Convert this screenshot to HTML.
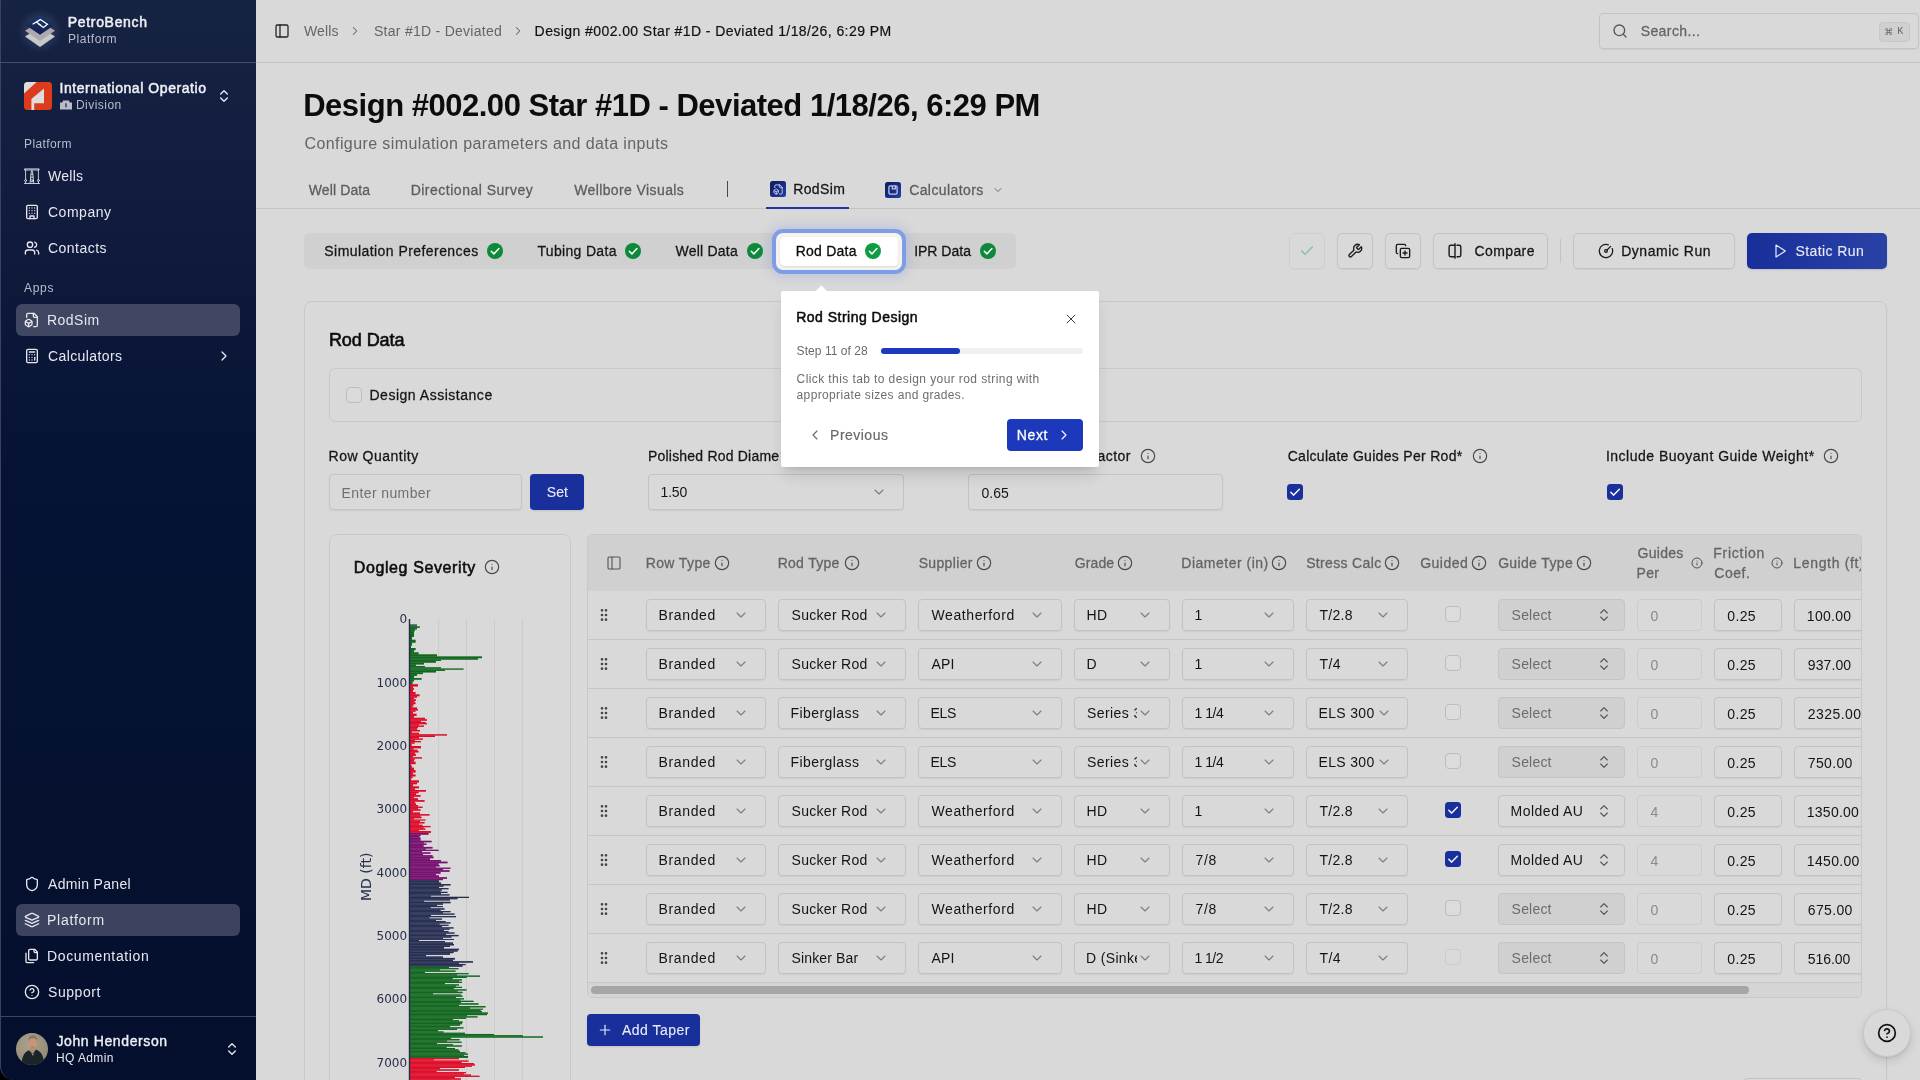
<!DOCTYPE html><html lang="en"><head><meta charset="utf-8"><title>PetroBench - RodSim Design</title><style>*{box-sizing:border-box;margin:0;padding:0}
html,body{width:1920px;height:1080px;overflow:hidden}
body{position:relative;background:#d9d9d9;font-family:"Liberation Sans",sans-serif;color:#111;-webkit-font-smoothing:antialiased}
.layer{will-change:transform;position:absolute;left:0;top:0;width:1920px;height:1080px;overflow:hidden;pointer-events:none}
.a{position:absolute;display:block}
.t{position:absolute;display:block;white-space:pre;line-height:1;color:#111}
.clip{position:absolute;overflow:hidden}
</style></head><body><div class="layer" id="L-main"><div class="a" style="left:256px;top:62px;width:1664px;height:1px;background:#c3c3c3;"></div><svg class="a" style="left:274px;top:23px;" width="16" height="16" viewBox="0 0 24 24" fill="none" stroke="#222" stroke-width="1.9" stroke-linecap="round" stroke-linejoin="round"><rect width="18" height="18" x="3" y="3" rx="2"/><path d="M9 3v18"/></svg><span class="t" style="left:304.00px;top:24.00px;font-size:14px;letter-spacing:0.133px;color:#656565;">Wells</span><svg class="a" style="left:348px;top:24px;" width="14" height="14" viewBox="0 0 24 24" fill="none" stroke="#656565" stroke-width="1.8" stroke-linecap="round" stroke-linejoin="round"><path d="m9 18 6-6-6-6"/></svg><span class="t" style="left:374.00px;top:24.00px;font-size:14px;letter-spacing:0.269px;color:#656565;">Star #1D - Deviated</span><svg class="a" style="left:510.5px;top:24px;" width="14" height="14" viewBox="0 0 24 24" fill="none" stroke="#656565" stroke-width="1.8" stroke-linecap="round" stroke-linejoin="round"><path d="m9 18 6-6-6-6"/></svg><span class="t" style="left:534.60px;top:24.00px;font-size:14px;letter-spacing:0.421px;color:#111111;-webkit-text-stroke:0.2px currentColor;">Design #002.00 Star #1D - Deviated 1/18/26, 6:29 PM</span><div class="a" style="left:1599px;top:13px;width:320px;height:36px;border:1px solid #c3c3c3;border-radius:4px;box-shadow:0 1px 1px rgba(0,0,0,.05);"></div><svg class="a" style="left:1612px;top:23px;" width="16" height="16" viewBox="0 0 24 24" fill="none" stroke="#555" stroke-width="2" stroke-linecap="round" stroke-linejoin="round"><circle cx="11" cy="11" r="8"/><path d="m21 21-4.3-4.3"/></svg><span class="t" style="left:1640.64px;top:24.00px;font-size:14px;letter-spacing:0.423px;color:#656565;-webkit-text-stroke:0.28px currentColor;">Search...</span><div class="a" style="left:1879px;top:22px;width:31px;height:20px;background:#d0d0d0;border:1px solid #c6c6c6;border-radius:4px;"></div><span class="t" style="left:1884.30px;top:28.00px;font-size:9px;font-family:'DejaVu Sans', 'Liberation Sans', sans-serif;color:#656565;">⌘</span><span class="t" style="left:1897.30px;top:27.00px;font-size:10px;font-family:'Liberation Mono', monospace;color:#656565;">K</span><span class="t" style="left:303.20px;top:90.00px;font-size:31px;font-weight:700;letter-spacing:-0.488px;color:#0c0c0c;">Design #002.00 Star #1D - Deviated 1/18/26, 6:29 PM</span><span class="t" style="left:304.50px;top:136.00px;font-size:16px;letter-spacing:0.400px;color:#656565;">Configure simulation parameters and data inputs</span><div class="a" style="left:256px;top:208px;width:1664px;height:1px;background:#c3c3c3;"></div><span class="t" style="left:308.64px;top:183.00px;font-size:14px;letter-spacing:0.135px;color:#5d5d5d;-webkit-text-stroke:0.28px currentColor;">Well Data</span><span class="t" style="left:410.64px;top:183.00px;font-size:14px;letter-spacing:0.507px;color:#5d5d5d;-webkit-text-stroke:0.28px currentColor;">Directional Survey</span><span class="t" style="left:574.14px;top:183.00px;font-size:14px;letter-spacing:0.398px;color:#5d5d5d;-webkit-text-stroke:0.28px currentColor;">Wellbore Visuals</span><div class="a" style="left:726.6px;top:180.5px;width:1.3px;height:16.5px;background:#4a4a4a;"></div><div class="a" style="left:770px;top:181px;width:16px;height:16px;background:linear-gradient(135deg,#10206a 20%,#2440a6 100%);border-radius:2.5px;"></div><svg class="a" style="left:772.5px;top:183.5px;" width="11" height="11" viewBox="0 0 24 24" fill="none" stroke="#cfd4ea" stroke-width="2" stroke-linecap="round" stroke-linejoin="round"><path d="M14.5 22H18a2 2 0 0 0 2-2V7l-5-5H6a2 2 0 0 0-2 2v4"/><path d="M14 2v4a2 2 0 0 0 2 2h4"/><path d="M3 13.1a2 2 0 0 0-1 1.76v3.24a2 2 0 0 0 .97 1.78L6 21.7a2 2 0 0 0 2.03.01L11 19.9a2 2 0 0 0 1-1.76V14.9a2 2 0 0 0-.97-1.78L8 11.3a2 2 0 0 0-2.03-.01Z"/><path d="M7 17v5"/><path d="M11.7 14.2 7 17l-4.7-2.8"/></svg><span class="t" style="left:793.14px;top:182.00px;font-size:14px;letter-spacing:0.418px;color:#141414;-webkit-text-stroke:0.28px currentColor;">RodSim</span><div class="a" style="left:766px;top:207px;width:83px;height:2px;background:#1c37a6;"></div><div class="a" style="left:885px;top:182px;width:16px;height:16px;background:linear-gradient(135deg,#10206a 20%,#2440a6 100%);border-radius:2.5px;"></div><svg class="a" style="left:888px;top:185px" width="10" height="10" viewBox="0 0 10 10" fill="none" stroke="#c3c9e3" stroke-width="1.300" stroke-linejoin="round"><rect x=".900" y=".900" width="8.200" height="8.200" rx="1.300"/><path d="M4.300 .900v3h3V.900"/></svg><span class="t" style="left:909.14px;top:183.00px;font-size:14px;letter-spacing:0.419px;color:#5d5d5d;-webkit-text-stroke:0.28px currentColor;">Calculators</span><svg class="a" style="left:992px;top:184px;" width="12" height="12" viewBox="0 0 24 24" fill="none" stroke="#6a6a6a" stroke-width="2" stroke-linecap="round" stroke-linejoin="round"><path d="m6 9 6 6 6-6"/></svg><div class="a" style="left:304px;top:233px;width:712px;height:36px;background:#d0d0d0;border-radius:6px;"></div><span class="t" style="left:324.34px;top:244.00px;font-size:14px;letter-spacing:0.437px;color:#161616;-webkit-text-stroke:0.28px currentColor;">Simulation Preferences</span><svg class="a" style="left:487px;top:243px" width="16" height="16" viewBox="0 0 16 16"><circle cx="8" cy="8" r="8" fill="#0c8a3a"/><path d="M4.300 8.300 6.900 10.900 11.900 5.600" fill="none" stroke="#fff" stroke-width="1.500" stroke-linecap="round" stroke-linejoin="round"/></svg><span class="t" style="left:537.44px;top:244.00px;font-size:14px;letter-spacing:0.326px;color:#161616;-webkit-text-stroke:0.28px currentColor;">Tubing Data</span><svg class="a" style="left:625px;top:243px" width="16" height="16" viewBox="0 0 16 16"><circle cx="8" cy="8" r="8" fill="#0c8a3a"/><path d="M4.300 8.300 6.900 10.900 11.900 5.600" fill="none" stroke="#fff" stroke-width="1.500" stroke-linecap="round" stroke-linejoin="round"/></svg><span class="t" style="left:675.44px;top:244.00px;font-size:14px;letter-spacing:0.235px;color:#161616;-webkit-text-stroke:0.28px currentColor;">Well Data</span><svg class="a" style="left:746.8px;top:243px" width="16" height="16" viewBox="0 0 16 16"><circle cx="8" cy="8" r="8" fill="#0c8a3a"/><path d="M4.300 8.300 6.900 10.900 11.900 5.600" fill="none" stroke="#fff" stroke-width="1.500" stroke-linecap="round" stroke-linejoin="round"/></svg><span class="t" style="left:914.14px;top:244.00px;font-size:14px;color:#161616;-webkit-text-stroke:0.28px currentColor;">IPR Data</span><svg class="a" style="left:980px;top:243px" width="16" height="16" viewBox="0 0 16 16"><circle cx="8" cy="8" r="8" fill="#0c8a3a"/><path d="M4.300 8.300 6.900 10.900 11.900 5.600" fill="none" stroke="#fff" stroke-width="1.500" stroke-linecap="round" stroke-linejoin="round"/></svg><div class="a" style="left:1289px;top:233px;width:36px;height:36px;border:1px solid #cecece;border-radius:5px;box-shadow:0 1px 1px rgba(0,0,0,.03);"></div><svg class="a" style="left:1299px;top:243px;" width="16" height="16" viewBox="0 0 24 24" fill="none" stroke="#7cc0a4" stroke-width="1.9" stroke-linecap="round" stroke-linejoin="round"><path d="M20 6 9 17l-5-5"/></svg><div class="a" style="left:1337px;top:233px;width:36px;height:36px;border:1px solid #c3c3c3;border-radius:5px;box-shadow:0 1px 1.5px rgba(0,0,0,.06);"></div><svg class="a" style="left:1347px;top:243px;" width="16" height="16" viewBox="0 0 24 24" fill="none" stroke="#1a1a1a" stroke-width="2" stroke-linecap="round" stroke-linejoin="round"><path d="M14.7 6.3a1 1 0 0 0 0 1.4l1.6 1.6a1 1 0 0 0 1.4 0l3.77-3.77a6 6 0 0 1-7.94 7.94l-6.91 6.91a2.12 2.12 0 0 1-3-3l6.91-6.91a6 6 0 0 1 7.94-7.94l-3.76 3.76z"/></svg><div class="a" style="left:1385px;top:233px;width:36px;height:36px;border:1px solid #c3c3c3;border-radius:5px;box-shadow:0 1px 1.5px rgba(0,0,0,.06);"></div><svg class="a" style="left:1395px;top:243px;" width="16" height="16" viewBox="0 0 24 24" fill="none" stroke="#1a1a1a" stroke-width="2" stroke-linecap="round" stroke-linejoin="round"><line x1="15" x2="15" y1="12" y2="18"/><line x1="12" x2="18" y1="15" y2="15"/><rect width="14" height="14" x="8" y="8" rx="2" ry="2"/><path d="M4 16c-1.1 0-2-.9-2-2V4c0-1.1.9-2 2-2h10c1.1 0 2 .9 2 2"/></svg><div class="a" style="left:1433px;top:233px;width:115px;height:36px;border:1px solid #c3c3c3;border-radius:5px;box-shadow:0 1px 1.5px rgba(0,0,0,.06);"></div><svg class="a" style="left:1446.5px;top:243px" width="16" height="16" viewBox="0 0 16 16" fill="none" stroke="#1a1a1a" stroke-width="1.400" stroke-linecap="round" stroke-linejoin="round"><path d="M7.700 2.300H3.700a1.600 1.600 0 0 0-1.600 1.600v8.200a1.600 1.600 0 0 0 1.600 1.600h4"/><path d="M10 2.300h2.200a1.600 1.600 0 0 1 1.600 1.600v8.200a1.600 1.600 0 0 1-1.600 1.600H10"/><path d="M8 .700v14.600"/></svg><span class="t" style="left:1474.44px;top:244.00px;font-size:14px;letter-spacing:0.405px;color:#161616;-webkit-text-stroke:0.28px currentColor;">Compare</span><div class="a" style="left:1560px;top:239px;width:1px;height:24px;background:#c3c3c3;"></div><div class="a" style="left:1573px;top:233px;width:162px;height:36px;border:1px solid #c3c3c3;border-radius:5px;box-shadow:0 1px 1.5px rgba(0,0,0,.06);"></div><svg class="a" style="left:1598px;top:243px;" width="16" height="16" viewBox="0 0 24 24" fill="none" stroke="#1a1a1a" stroke-width="1.9" stroke-linecap="round" stroke-linejoin="round"><path d="M15.6 2.7a10 10 0 1 0 5.7 5.7"/><circle cx="12" cy="12" r="2"/><path d="M13.4 10.6 19 5"/></svg><span class="t" style="left:1621.14px;top:244.00px;font-size:14px;letter-spacing:0.548px;color:#161616;-webkit-text-stroke:0.28px currentColor;">Dynamic Run</span><div class="a" style="left:1747px;top:233px;width:140px;height:36px;background:linear-gradient(90deg,#182f9b,#2a42a6);border-radius:5px;box-shadow:0 1px 2px rgba(0,0,0,.12);"></div><svg class="a" style="left:1772px;top:243px;" width="16" height="16" viewBox="0 0 24 24" fill="none" stroke="#e8ebf6" stroke-width="1.8" stroke-linecap="round" stroke-linejoin="round"><polygon points="6 3 20 12 6 21 6 3"/></svg><span class="t" style="left:1795.46px;top:244.00px;font-size:14px;letter-spacing:0.409px;color:#e8ebf6;-webkit-text-stroke:0.12px currentColor;">Static Run</span><div class="a" style="left:304px;top:301px;width:1583px;height:800px;border:1px solid #c8c8c8;border-radius:8px;box-shadow:0 1px 2px rgba(0,0,0,.04);"></div><span class="t" style="left:328.91px;top:331.00px;font-size:18px;letter-spacing:-0.065px;color:#0d0d0d;-webkit-text-stroke:0.62px currentColor;">Rod Data</span><div class="a" style="left:329px;top:368px;width:1533px;height:53.5px;border:1px solid #c8c8c8;border-radius:6px;"></div><div class="a" style="left:346px;top:387px;width:16px;height:16px;background:#dbdbdb;border:1px solid #bdbdbd;border-radius:4px;"></div><span class="t" style="left:369.44px;top:388.00px;font-size:14px;letter-spacing:0.521px;color:#161616;-webkit-text-stroke:0.28px currentColor;">Design Assistance</span><span class="t" style="left:328.54px;top:449.00px;font-size:14px;letter-spacing:0.517px;color:#161616;-webkit-text-stroke:0.28px currentColor;">Row Quantity</span><div class="a" style="left:329px;top:474px;width:193px;height:36px;border:1px solid #c3c3c3;border-radius:4px;box-shadow:0 1px 1.5px rgba(0,0,0,.06);"></div><span class="t" style="left:341.50px;top:486.00px;font-size:14px;letter-spacing:0.395px;color:#707070;">Enter number</span><div class="a" style="left:530px;top:474px;width:54px;height:36px;background:#19309c;border-radius:4px;box-shadow:0 1px 2px rgba(0,0,0,.1);"></div><span class="t" style="left:546.86px;top:485.00px;font-size:14px;letter-spacing:0.028px;color:#e8ebf6;-webkit-text-stroke:0.12px currentColor;">Set</span><span class="t" style="left:648.04px;top:449.00px;font-size:14px;letter-spacing:0.199px;color:#161616;-webkit-text-stroke:0.28px currentColor;">Polished Rod Diame</span><span class="t" style="left:780.64px;top:449.00px;font-size:14px;letter-spacing:0.909px;color:#161616;-webkit-text-stroke:0.28px currentColor;">ter (in)*</span><div class="a" style="left:648px;top:474px;width:256px;height:36px;border:1px solid #c3c3c3;border-radius:4px;box-shadow:0 1px 1.5px rgba(0,0,0,.06);"></div><span class="t" style="left:660.50px;top:485.00px;font-size:14px;letter-spacing:-0.154px;color:#161616;">1.50</span><svg class="a" style="left:871px;top:484px;" width="16" height="16" viewBox="0 0 24 24" fill="none" stroke="#7c7c7c" stroke-width="1.7" stroke-linecap="round" stroke-linejoin="round"><path d="m6 9 6 6 6-6"/></svg><span class="t" style="left:1034.14px;top:449.00px;font-size:14px;letter-spacing:0.472px;color:#161616;-webkit-text-stroke:0.28px currentColor;">Service Factor</span><svg class="a" style="left:1140.3px;top:448px;" width="16" height="16" viewBox="0 0 24 24" fill="none" stroke="#4a4a4a" stroke-width="1.75" stroke-linecap="round" stroke-linejoin="round"><circle cx="12" cy="12" r="10"/><path d="M12 16v-4"/><path d="M12 8h.01"/></svg><div class="a" style="left:968px;top:474px;width:255px;height:36px;border:1px solid #c3c3c3;border-radius:4px;box-shadow:0 1px 1.5px rgba(0,0,0,.06);"></div><span class="t" style="left:981.50px;top:486.00px;font-size:14px;letter-spacing:0.013px;color:#161616;">0.65</span><span class="t" style="left:1287.64px;top:449.00px;font-size:14px;letter-spacing:0.302px;color:#161616;-webkit-text-stroke:0.28px currentColor;">Calculate Guides Per Rod*</span><svg class="a" style="left:1472.1px;top:448px;" width="16" height="16" viewBox="0 0 24 24" fill="none" stroke="#4a4a4a" stroke-width="1.75" stroke-linecap="round" stroke-linejoin="round"><circle cx="12" cy="12" r="10"/><path d="M12 16v-4"/><path d="M12 8h.01"/></svg><svg class="a" style="left:1287px;top:484px" width="16" height="16" viewBox="0 0 16 16"><rect width="16" height="16" rx="3.500" fill="#19309c"/><path d="M3.800 8.300 6.700 11.100 12.300 5.200" fill="none" stroke="#f1f3fb" stroke-width="1.500" stroke-linecap="round" stroke-linejoin="round"/></svg><span class="t" style="left:1605.94px;top:449.00px;font-size:14px;letter-spacing:0.495px;color:#161616;-webkit-text-stroke:0.28px currentColor;">Include Buoyant Guide Weight*</span><svg class="a" style="left:1823.3px;top:448px;" width="16" height="16" viewBox="0 0 24 24" fill="none" stroke="#4a4a4a" stroke-width="1.75" stroke-linecap="round" stroke-linejoin="round"><circle cx="12" cy="12" r="10"/><path d="M12 16v-4"/><path d="M12 8h.01"/></svg><svg class="a" style="left:1607px;top:484px" width="16" height="16" viewBox="0 0 16 16"><rect width="16" height="16" rx="3.500" fill="#19309c"/><path d="M3.800 8.300 6.700 11.100 12.300 5.200" fill="none" stroke="#f1f3fb" stroke-width="1.500" stroke-linecap="round" stroke-linejoin="round"/></svg><div class="a" style="left:1743px;top:1078px;width:119px;height:36px;border:1px solid #c3c3c3;border-radius:4px;"></div><div class="a" style="left:587px;top:1014px;width:113px;height:32px;background:#19309c;border-radius:4px;box-shadow:0 1px 2px rgba(0,0,0,.1);"></div><svg class="a" style="left:597.3px;top:1022px;" width="16" height="16" viewBox="0 0 24 24" fill="none" stroke="#e8ebf6" stroke-width="1.7" stroke-linecap="round" stroke-linejoin="round"><path d="M5 12h14"/><path d="M12 5v14"/></svg><span class="t" style="left:622.06px;top:1023.00px;font-size:14px;letter-spacing:0.465px;color:#e8ebf6;-webkit-text-stroke:0.12px currentColor;">Add Taper</span><div class="clip" style="left:587px;top:534px;width:1275px;height:464px;border:1px solid #c8c8c8;border-radius:5px;background:#d9d9d9"><div class="a" style="left:0px;top:0px;width:1275px;height:55.5px;background:#d0d0d0;"></div><svg class="a" style="left:18px;top:20px;" width="16" height="16" viewBox="0 0 24 24" fill="none" stroke="#555" stroke-width="1.7" stroke-linecap="round" stroke-linejoin="round"><rect width="18" height="18" x="3" y="3" rx="2"/><path d="M9 3v18"/></svg><span class="t" style="left:57.64px;top:21.00px;font-size:14px;letter-spacing:0.394px;color:#646464;-webkit-text-stroke:0.28px currentColor;">Row Type</span><svg class="a" style="left:126.3px;top:20px;" width="16" height="16" viewBox="0 0 24 24" fill="none" stroke="#4a4a4a" stroke-width="1.75" stroke-linecap="round" stroke-linejoin="round"><circle cx="12" cy="12" r="10"/><path d="M12 16v-4"/><path d="M12 8h.01"/></svg><span class="t" style="left:189.64px;top:21.00px;font-size:14px;letter-spacing:0.297px;color:#646464;-webkit-text-stroke:0.28px currentColor;">Rod Type</span><svg class="a" style="left:255.6px;top:20px;" width="16" height="16" viewBox="0 0 24 24" fill="none" stroke="#4a4a4a" stroke-width="1.75" stroke-linecap="round" stroke-linejoin="round"><circle cx="12" cy="12" r="10"/><path d="M12 16v-4"/><path d="M12 8h.01"/></svg><span class="t" style="left:330.64px;top:21.00px;font-size:14px;letter-spacing:0.360px;color:#646464;-webkit-text-stroke:0.28px currentColor;">Supplier</span><svg class="a" style="left:388.3px;top:20px;" width="16" height="16" viewBox="0 0 24 24" fill="none" stroke="#4a4a4a" stroke-width="1.75" stroke-linecap="round" stroke-linejoin="round"><circle cx="12" cy="12" r="10"/><path d="M12 16v-4"/><path d="M12 8h.01"/></svg><span class="t" style="left:486.64px;top:21.00px;font-size:14px;letter-spacing:0.149px;color:#646464;-webkit-text-stroke:0.28px currentColor;">Grade</span><svg class="a" style="left:529.3px;top:20px;" width="16" height="16" viewBox="0 0 24 24" fill="none" stroke="#4a4a4a" stroke-width="1.75" stroke-linecap="round" stroke-linejoin="round"><circle cx="12" cy="12" r="10"/><path d="M12 16v-4"/><path d="M12 8h.01"/></svg><span class="t" style="left:593.34px;top:21.00px;font-size:14px;letter-spacing:0.498px;color:#646464;-webkit-text-stroke:0.28px currentColor;">Diameter (in)</span><svg class="a" style="left:683.3px;top:20px;" width="16" height="16" viewBox="0 0 24 24" fill="none" stroke="#4a4a4a" stroke-width="1.75" stroke-linecap="round" stroke-linejoin="round"><circle cx="12" cy="12" r="10"/><path d="M12 16v-4"/><path d="M12 8h.01"/></svg><span class="t" style="left:718.14px;top:21.00px;font-size:14px;letter-spacing:0.345px;color:#646464;-webkit-text-stroke:0.28px currentColor;">Stress Calc</span><svg class="a" style="left:796.3px;top:20px;" width="16" height="16" viewBox="0 0 24 24" fill="none" stroke="#4a4a4a" stroke-width="1.75" stroke-linecap="round" stroke-linejoin="round"><circle cx="12" cy="12" r="10"/><path d="M12 16v-4"/><path d="M12 8h.01"/></svg><span class="t" style="left:832.14px;top:21.00px;font-size:14px;letter-spacing:0.512px;color:#646464;-webkit-text-stroke:0.28px currentColor;">Guided</span><svg class="a" style="left:882.5px;top:20px;" width="16" height="16" viewBox="0 0 24 24" fill="none" stroke="#4a4a4a" stroke-width="1.75" stroke-linecap="round" stroke-linejoin="round"><circle cx="12" cy="12" r="10"/><path d="M12 16v-4"/><path d="M12 8h.01"/></svg><span class="t" style="left:910.14px;top:21.00px;font-size:14px;letter-spacing:0.356px;color:#646464;-webkit-text-stroke:0.28px currentColor;">Guide Type</span><svg class="a" style="left:988.3px;top:20px;" width="16" height="16" viewBox="0 0 24 24" fill="none" stroke="#4a4a4a" stroke-width="1.75" stroke-linecap="round" stroke-linejoin="round"><circle cx="12" cy="12" r="10"/><path d="M12 16v-4"/><path d="M12 8h.01"/></svg><span class="t" style="left:1049.54px;top:11.00px;font-size:14px;letter-spacing:0.272px;color:#646464;-webkit-text-stroke:0.28px currentColor;">Guides</span><span class="t" style="left:1048.54px;top:31.00px;font-size:14px;letter-spacing:0.298px;color:#646464;-webkit-text-stroke:0.28px currentColor;">Per</span><svg class="a" style="left:1102.6px;top:22px;" width="12" height="12" viewBox="0 0 24 24" fill="none" stroke="#4a4a4a" stroke-width="1.9" stroke-linecap="round" stroke-linejoin="round"><circle cx="12" cy="12" r="10"/><path d="M12 16v-4"/><path d="M12 8h.01"/></svg><span class="t" style="left:1125.34px;top:11.00px;font-size:14px;letter-spacing:0.730px;color:#646464;-webkit-text-stroke:0.28px currentColor;">Friction</span><span class="t" style="left:1126.34px;top:31.00px;font-size:14px;letter-spacing:0.537px;color:#646464;-webkit-text-stroke:0.28px currentColor;">Coef.</span><svg class="a" style="left:1183.2px;top:22px;" width="12" height="12" viewBox="0 0 24 24" fill="none" stroke="#4a4a4a" stroke-width="1.9" stroke-linecap="round" stroke-linejoin="round"><circle cx="12" cy="12" r="10"/><path d="M12 16v-4"/><path d="M12 8h.01"/></svg><span class="t" style="left:1205.34px;top:21.00px;font-size:14px;letter-spacing:0.657px;color:#646464;-webkit-text-stroke:0.28px currentColor;">Length (ft)</span><svg class="a" style="left:8px;top:72px;" width="16" height="16" viewBox="0 0 24 24" fill="none" stroke="#454545" stroke-width="2" stroke-linecap="round" stroke-linejoin="round"><circle cx="9" cy="12" r="1"/><circle cx="9" cy="5" r="1"/><circle cx="9" cy="19" r="1"/><circle cx="15" cy="12" r="1"/><circle cx="15" cy="5" r="1"/><circle cx="15" cy="19" r="1"/></svg><div class="a" style="left:58px;top:64px;width:120px;height:32px;border:1px solid #c2c2c2;border-radius:4px;box-shadow:0 1px 1.5px rgba(0,0,0,.06);"></div><span class="t" style="left:70.50px;top:73.00px;font-size:14px;letter-spacing:0.643px;color:#141414;">Branded</span><svg class="a" style="left:145px;top:72px;" width="16" height="16" viewBox="0 0 24 24" fill="none" stroke="#7d7d7d" stroke-width="1.6" stroke-linecap="round" stroke-linejoin="round"><path d="m6 9 6 6 6-6"/></svg><div class="a" style="left:190px;top:64px;width:128px;height:32px;border:1px solid #c2c2c2;border-radius:4px;box-shadow:0 1px 1.5px rgba(0,0,0,.06);"></div><span class="t" style="left:203.50px;top:73.00px;font-size:14px;letter-spacing:0.294px;color:#141414;">Sucker Rod</span><svg class="a" style="left:285px;top:72px;" width="16" height="16" viewBox="0 0 24 24" fill="none" stroke="#7d7d7d" stroke-width="1.6" stroke-linecap="round" stroke-linejoin="round"><path d="m6 9 6 6 6-6"/></svg><div class="a" style="left:330px;top:64px;width:144px;height:32px;border:1px solid #c2c2c2;border-radius:4px;box-shadow:0 1px 1.5px rgba(0,0,0,.06);"></div><span class="t" style="left:343.50px;top:73.00px;font-size:14px;letter-spacing:0.600px;color:#141414;">Weatherford</span><svg class="a" style="left:441px;top:72px;" width="16" height="16" viewBox="0 0 24 24" fill="none" stroke="#7d7d7d" stroke-width="1.6" stroke-linecap="round" stroke-linejoin="round"><path d="m6 9 6 6 6-6"/></svg><div class="a" style="left:486px;top:64px;width:96px;height:32px;border:1px solid #c2c2c2;border-radius:4px;box-shadow:0 1px 1.5px rgba(0,0,0,.06);"></div><span class="t" style="left:498.50px;top:73.00px;font-size:14px;letter-spacing:0.390px;color:#141414;">HD</span><svg class="a" style="left:549px;top:72px;" width="16" height="16" viewBox="0 0 24 24" fill="none" stroke="#7d7d7d" stroke-width="1.6" stroke-linecap="round" stroke-linejoin="round"><path d="m6 9 6 6 6-6"/></svg><div class="a" style="left:594px;top:64px;width:112px;height:32px;border:1px solid #c2c2c2;border-radius:4px;box-shadow:0 1px 1.5px rgba(0,0,0,.06);"></div><span class="t" style="left:606.50px;top:73.00px;font-size:14px;color:#141414;">1</span><svg class="a" style="left:673px;top:72px;" width="16" height="16" viewBox="0 0 24 24" fill="none" stroke="#7d7d7d" stroke-width="1.6" stroke-linecap="round" stroke-linejoin="round"><path d="m6 9 6 6 6-6"/></svg><div class="a" style="left:718px;top:64px;width:102px;height:32px;border:1px solid #c2c2c2;border-radius:4px;box-shadow:0 1px 1.5px rgba(0,0,0,.06);"></div><span class="t" style="left:731.50px;top:73.00px;font-size:14px;letter-spacing:0.296px;color:#141414;">T/2.8</span><svg class="a" style="left:787px;top:72px;" width="16" height="16" viewBox="0 0 24 24" fill="none" stroke="#7d7d7d" stroke-width="1.6" stroke-linecap="round" stroke-linejoin="round"><path d="m6 9 6 6 6-6"/></svg><div class="a" style="left:857px;top:71px;width:16px;height:16px;background:#dcdcdc;border:1px solid #bdbdbd;border-radius:4px;"></div><div class="a" style="left:910px;top:64px;width:127px;height:32px;background:#d0d0d0;border:1px solid #c4c4c4;border-radius:4px;"></div><span class="t" style="left:923.60px;top:73.00px;font-size:14px;letter-spacing:0.196px;color:#6c6c6c;">Select</span><svg class="a" style="left:1008px;top:72px;" width="16" height="16" viewBox="0 0 24 24" fill="none" stroke="#555" stroke-width="1.7" stroke-linecap="round" stroke-linejoin="round"><path d="m7 15 5 5 5-5"/><path d="m7 9 5-5 5 5"/></svg><div class="a" style="left:1049px;top:64px;width:65px;height:32px;border:1px solid #cccccc;border-radius:4px;"></div><span class="t" style="left:1062.60px;top:74.00px;font-size:14px;color:#8a8a8a;">0</span><div class="a" style="left:1126px;top:64px;width:68px;height:32px;border:1px solid #c2c2c2;border-radius:4px;box-shadow:0 1px 1.5px rgba(0,0,0,.06);"></div><span class="t" style="left:1139.30px;top:74.00px;font-size:14px;letter-spacing:0.346px;color:#141414;">0.25</span><div class="a" style="left:1206px;top:64px;width:90px;height:32px;border:1px solid #c2c2c2;border-radius:4px;box-shadow:0 1px 1.5px rgba(0,0,0,.06);"></div><span class="t" style="left:1218.80px;top:74.00px;font-size:14px;letter-spacing:0.293px;color:#141414;">100.00</span><div class="a" style="left:0px;top:103.5px;width:1275px;height:1px;background:#c6c6c6;"></div><svg class="a" style="left:8px;top:121px;" width="16" height="16" viewBox="0 0 24 24" fill="none" stroke="#454545" stroke-width="2" stroke-linecap="round" stroke-linejoin="round"><circle cx="9" cy="12" r="1"/><circle cx="9" cy="5" r="1"/><circle cx="9" cy="19" r="1"/><circle cx="15" cy="12" r="1"/><circle cx="15" cy="5" r="1"/><circle cx="15" cy="19" r="1"/></svg><div class="a" style="left:58px;top:113px;width:120px;height:32px;border:1px solid #c2c2c2;border-radius:4px;box-shadow:0 1px 1.5px rgba(0,0,0,.06);"></div><span class="t" style="left:70.50px;top:122.00px;font-size:14px;letter-spacing:0.643px;color:#141414;">Branded</span><svg class="a" style="left:145px;top:121px;" width="16" height="16" viewBox="0 0 24 24" fill="none" stroke="#7d7d7d" stroke-width="1.6" stroke-linecap="round" stroke-linejoin="round"><path d="m6 9 6 6 6-6"/></svg><div class="a" style="left:190px;top:113px;width:128px;height:32px;border:1px solid #c2c2c2;border-radius:4px;box-shadow:0 1px 1.5px rgba(0,0,0,.06);"></div><span class="t" style="left:203.50px;top:122.00px;font-size:14px;letter-spacing:0.294px;color:#141414;">Sucker Rod</span><svg class="a" style="left:285px;top:121px;" width="16" height="16" viewBox="0 0 24 24" fill="none" stroke="#7d7d7d" stroke-width="1.6" stroke-linecap="round" stroke-linejoin="round"><path d="m6 9 6 6 6-6"/></svg><div class="a" style="left:330px;top:113px;width:144px;height:32px;border:1px solid #c2c2c2;border-radius:4px;box-shadow:0 1px 1.5px rgba(0,0,0,.06);"></div><span class="t" style="left:343.50px;top:122.00px;font-size:14px;letter-spacing:0.162px;color:#141414;">API</span><svg class="a" style="left:441px;top:121px;" width="16" height="16" viewBox="0 0 24 24" fill="none" stroke="#7d7d7d" stroke-width="1.6" stroke-linecap="round" stroke-linejoin="round"><path d="m6 9 6 6 6-6"/></svg><div class="a" style="left:486px;top:113px;width:96px;height:32px;border:1px solid #c2c2c2;border-radius:4px;box-shadow:0 1px 1.5px rgba(0,0,0,.06);"></div><span class="t" style="left:498.50px;top:122.00px;font-size:14px;color:#141414;">D</span><svg class="a" style="left:549px;top:121px;" width="16" height="16" viewBox="0 0 24 24" fill="none" stroke="#7d7d7d" stroke-width="1.6" stroke-linecap="round" stroke-linejoin="round"><path d="m6 9 6 6 6-6"/></svg><div class="a" style="left:594px;top:113px;width:112px;height:32px;border:1px solid #c2c2c2;border-radius:4px;box-shadow:0 1px 1.5px rgba(0,0,0,.06);"></div><span class="t" style="left:606.50px;top:122.00px;font-size:14px;color:#141414;">1</span><svg class="a" style="left:673px;top:121px;" width="16" height="16" viewBox="0 0 24 24" fill="none" stroke="#7d7d7d" stroke-width="1.6" stroke-linecap="round" stroke-linejoin="round"><path d="m6 9 6 6 6-6"/></svg><div class="a" style="left:718px;top:113px;width:102px;height:32px;border:1px solid #c2c2c2;border-radius:4px;box-shadow:0 1px 1.5px rgba(0,0,0,.06);"></div><span class="t" style="left:731.50px;top:122.00px;font-size:14px;letter-spacing:0.429px;color:#141414;">T/4</span><svg class="a" style="left:787px;top:121px;" width="16" height="16" viewBox="0 0 24 24" fill="none" stroke="#7d7d7d" stroke-width="1.6" stroke-linecap="round" stroke-linejoin="round"><path d="m6 9 6 6 6-6"/></svg><div class="a" style="left:857px;top:120px;width:16px;height:16px;background:#dcdcdc;border:1px solid #bdbdbd;border-radius:4px;"></div><div class="a" style="left:910px;top:113px;width:127px;height:32px;background:#d0d0d0;border:1px solid #c4c4c4;border-radius:4px;"></div><span class="t" style="left:923.60px;top:122.00px;font-size:14px;letter-spacing:0.196px;color:#6c6c6c;">Select</span><svg class="a" style="left:1008px;top:121px;" width="16" height="16" viewBox="0 0 24 24" fill="none" stroke="#555" stroke-width="1.7" stroke-linecap="round" stroke-linejoin="round"><path d="m7 15 5 5 5-5"/><path d="m7 9 5-5 5 5"/></svg><div class="a" style="left:1049px;top:113px;width:65px;height:32px;border:1px solid #cccccc;border-radius:4px;"></div><span class="t" style="left:1062.60px;top:123.00px;font-size:14px;color:#8a8a8a;">0</span><div class="a" style="left:1126px;top:113px;width:68px;height:32px;border:1px solid #c2c2c2;border-radius:4px;box-shadow:0 1px 1.5px rgba(0,0,0,.06);"></div><span class="t" style="left:1139.30px;top:123.00px;font-size:14px;letter-spacing:0.346px;color:#141414;">0.25</span><div class="a" style="left:1206px;top:113px;width:90px;height:32px;border:1px solid #c2c2c2;border-radius:4px;box-shadow:0 1px 1.5px rgba(0,0,0,.06);"></div><span class="t" style="left:1219.80px;top:123.00px;font-size:14px;letter-spacing:0.093px;color:#141414;">937.00</span><div class="a" style="left:0px;top:152.5px;width:1275px;height:1px;background:#c6c6c6;"></div><svg class="a" style="left:8px;top:170px;" width="16" height="16" viewBox="0 0 24 24" fill="none" stroke="#454545" stroke-width="2" stroke-linecap="round" stroke-linejoin="round"><circle cx="9" cy="12" r="1"/><circle cx="9" cy="5" r="1"/><circle cx="9" cy="19" r="1"/><circle cx="15" cy="12" r="1"/><circle cx="15" cy="5" r="1"/><circle cx="15" cy="19" r="1"/></svg><div class="a" style="left:58px;top:162px;width:120px;height:32px;border:1px solid #c2c2c2;border-radius:4px;box-shadow:0 1px 1.5px rgba(0,0,0,.06);"></div><span class="t" style="left:70.50px;top:171.00px;font-size:14px;letter-spacing:0.643px;color:#141414;">Branded</span><svg class="a" style="left:145px;top:170px;" width="16" height="16" viewBox="0 0 24 24" fill="none" stroke="#7d7d7d" stroke-width="1.6" stroke-linecap="round" stroke-linejoin="round"><path d="m6 9 6 6 6-6"/></svg><div class="a" style="left:190px;top:162px;width:128px;height:32px;border:1px solid #c2c2c2;border-radius:4px;box-shadow:0 1px 1.5px rgba(0,0,0,.06);"></div><span class="t" style="left:202.50px;top:171.00px;font-size:14px;letter-spacing:0.436px;color:#141414;">Fiberglass</span><svg class="a" style="left:285px;top:170px;" width="16" height="16" viewBox="0 0 24 24" fill="none" stroke="#7d7d7d" stroke-width="1.6" stroke-linecap="round" stroke-linejoin="round"><path d="m6 9 6 6 6-6"/></svg><div class="a" style="left:330px;top:162px;width:144px;height:32px;border:1px solid #c2c2c2;border-radius:4px;box-shadow:0 1px 1.5px rgba(0,0,0,.06);"></div><span class="t" style="left:342.50px;top:171.00px;font-size:14px;letter-spacing:-0.312px;color:#141414;">ELS</span><svg class="a" style="left:441px;top:170px;" width="16" height="16" viewBox="0 0 24 24" fill="none" stroke="#7d7d7d" stroke-width="1.6" stroke-linecap="round" stroke-linejoin="round"><path d="m6 9 6 6 6-6"/></svg><div class="a" style="left:486px;top:162px;width:96px;height:32px;border:1px solid #c2c2c2;border-radius:4px;box-shadow:0 1px 1.5px rgba(0,0,0,.06);"></div><div class="clip" style="left:487px;top:163px;width:62px;height:30px"><span class="t" style="left:12.00px;top:8.00px;font-size:14px;letter-spacing:0.428px;color:#141414;">Series 300</span></div><svg class="a" style="left:549px;top:170px;" width="16" height="16" viewBox="0 0 24 24" fill="none" stroke="#7d7d7d" stroke-width="1.6" stroke-linecap="round" stroke-linejoin="round"><path d="m6 9 6 6 6-6"/></svg><div class="a" style="left:594px;top:162px;width:112px;height:32px;border:1px solid #c2c2c2;border-radius:4px;box-shadow:0 1px 1.5px rgba(0,0,0,.06);"></div><span class="t" style="left:606.50px;top:171.00px;font-size:14px;letter-spacing:-0.463px;color:#141414;">1 1/4</span><svg class="a" style="left:673px;top:170px;" width="16" height="16" viewBox="0 0 24 24" fill="none" stroke="#7d7d7d" stroke-width="1.6" stroke-linecap="round" stroke-linejoin="round"><path d="m6 9 6 6 6-6"/></svg><div class="a" style="left:718px;top:162px;width:102px;height:32px;border:1px solid #c2c2c2;border-radius:4px;box-shadow:0 1px 1.5px rgba(0,0,0,.06);"></div><span class="t" style="left:730.50px;top:171.00px;font-size:14px;letter-spacing:0.346px;color:#141414;">ELS 300</span><svg class="a" style="left:788px;top:170px;" width="16" height="16" viewBox="0 0 24 24" fill="none" stroke="#7d7d7d" stroke-width="1.6" stroke-linecap="round" stroke-linejoin="round"><path d="m6 9 6 6 6-6"/></svg><div class="a" style="left:857px;top:169px;width:16px;height:16px;background:#dcdcdc;border:1px solid #bdbdbd;border-radius:4px;"></div><div class="a" style="left:910px;top:162px;width:127px;height:32px;background:#d0d0d0;border:1px solid #c4c4c4;border-radius:4px;"></div><span class="t" style="left:923.60px;top:171.00px;font-size:14px;letter-spacing:0.196px;color:#6c6c6c;">Select</span><svg class="a" style="left:1008px;top:170px;" width="16" height="16" viewBox="0 0 24 24" fill="none" stroke="#555" stroke-width="1.7" stroke-linecap="round" stroke-linejoin="round"><path d="m7 15 5 5 5-5"/><path d="m7 9 5-5 5 5"/></svg><div class="a" style="left:1049px;top:162px;width:65px;height:32px;border:1px solid #cccccc;border-radius:4px;"></div><span class="t" style="left:1062.60px;top:172.00px;font-size:14px;color:#8a8a8a;">0</span><div class="a" style="left:1126px;top:162px;width:68px;height:32px;border:1px solid #c2c2c2;border-radius:4px;box-shadow:0 1px 1.5px rgba(0,0,0,.06);"></div><span class="t" style="left:1139.30px;top:172.00px;font-size:14px;letter-spacing:0.346px;color:#141414;">0.25</span><div class="a" style="left:1206px;top:162px;width:90px;height:32px;border:1px solid #c2c2c2;border-radius:4px;box-shadow:0 1px 1.5px rgba(0,0,0,.06);"></div><span class="t" style="left:1219.80px;top:172.00px;font-size:14px;letter-spacing:0.447px;color:#141414;">2325.00</span><div class="a" style="left:0px;top:201.5px;width:1275px;height:1px;background:#c6c6c6;"></div><svg class="a" style="left:8px;top:219px;" width="16" height="16" viewBox="0 0 24 24" fill="none" stroke="#454545" stroke-width="2" stroke-linecap="round" stroke-linejoin="round"><circle cx="9" cy="12" r="1"/><circle cx="9" cy="5" r="1"/><circle cx="9" cy="19" r="1"/><circle cx="15" cy="12" r="1"/><circle cx="15" cy="5" r="1"/><circle cx="15" cy="19" r="1"/></svg><div class="a" style="left:58px;top:211px;width:120px;height:32px;border:1px solid #c2c2c2;border-radius:4px;box-shadow:0 1px 1.5px rgba(0,0,0,.06);"></div><span class="t" style="left:70.50px;top:220.00px;font-size:14px;letter-spacing:0.643px;color:#141414;">Branded</span><svg class="a" style="left:145px;top:219px;" width="16" height="16" viewBox="0 0 24 24" fill="none" stroke="#7d7d7d" stroke-width="1.6" stroke-linecap="round" stroke-linejoin="round"><path d="m6 9 6 6 6-6"/></svg><div class="a" style="left:190px;top:211px;width:128px;height:32px;border:1px solid #c2c2c2;border-radius:4px;box-shadow:0 1px 1.5px rgba(0,0,0,.06);"></div><span class="t" style="left:202.50px;top:220.00px;font-size:14px;letter-spacing:0.436px;color:#141414;">Fiberglass</span><svg class="a" style="left:285px;top:219px;" width="16" height="16" viewBox="0 0 24 24" fill="none" stroke="#7d7d7d" stroke-width="1.6" stroke-linecap="round" stroke-linejoin="round"><path d="m6 9 6 6 6-6"/></svg><div class="a" style="left:330px;top:211px;width:144px;height:32px;border:1px solid #c2c2c2;border-radius:4px;box-shadow:0 1px 1.5px rgba(0,0,0,.06);"></div><span class="t" style="left:342.50px;top:220.00px;font-size:14px;letter-spacing:-0.312px;color:#141414;">ELS</span><svg class="a" style="left:441px;top:219px;" width="16" height="16" viewBox="0 0 24 24" fill="none" stroke="#7d7d7d" stroke-width="1.6" stroke-linecap="round" stroke-linejoin="round"><path d="m6 9 6 6 6-6"/></svg><div class="a" style="left:486px;top:211px;width:96px;height:32px;border:1px solid #c2c2c2;border-radius:4px;box-shadow:0 1px 1.5px rgba(0,0,0,.06);"></div><div class="clip" style="left:487px;top:212px;width:62px;height:30px"><span class="t" style="left:12.00px;top:8.00px;font-size:14px;letter-spacing:0.428px;color:#141414;">Series 300</span></div><svg class="a" style="left:549px;top:219px;" width="16" height="16" viewBox="0 0 24 24" fill="none" stroke="#7d7d7d" stroke-width="1.6" stroke-linecap="round" stroke-linejoin="round"><path d="m6 9 6 6 6-6"/></svg><div class="a" style="left:594px;top:211px;width:112px;height:32px;border:1px solid #c2c2c2;border-radius:4px;box-shadow:0 1px 1.5px rgba(0,0,0,.06);"></div><span class="t" style="left:606.50px;top:220.00px;font-size:14px;letter-spacing:-0.463px;color:#141414;">1 1/4</span><svg class="a" style="left:673px;top:219px;" width="16" height="16" viewBox="0 0 24 24" fill="none" stroke="#7d7d7d" stroke-width="1.6" stroke-linecap="round" stroke-linejoin="round"><path d="m6 9 6 6 6-6"/></svg><div class="a" style="left:718px;top:211px;width:102px;height:32px;border:1px solid #c2c2c2;border-radius:4px;box-shadow:0 1px 1.5px rgba(0,0,0,.06);"></div><span class="t" style="left:730.50px;top:220.00px;font-size:14px;letter-spacing:0.346px;color:#141414;">ELS 300</span><svg class="a" style="left:788px;top:219px;" width="16" height="16" viewBox="0 0 24 24" fill="none" stroke="#7d7d7d" stroke-width="1.6" stroke-linecap="round" stroke-linejoin="round"><path d="m6 9 6 6 6-6"/></svg><div class="a" style="left:857px;top:218px;width:16px;height:16px;background:#dcdcdc;border:1px solid #bdbdbd;border-radius:4px;"></div><div class="a" style="left:910px;top:211px;width:127px;height:32px;background:#d0d0d0;border:1px solid #c4c4c4;border-radius:4px;"></div><span class="t" style="left:923.60px;top:220.00px;font-size:14px;letter-spacing:0.196px;color:#6c6c6c;">Select</span><svg class="a" style="left:1008px;top:219px;" width="16" height="16" viewBox="0 0 24 24" fill="none" stroke="#555" stroke-width="1.7" stroke-linecap="round" stroke-linejoin="round"><path d="m7 15 5 5 5-5"/><path d="m7 9 5-5 5 5"/></svg><div class="a" style="left:1049px;top:211px;width:65px;height:32px;border:1px solid #cccccc;border-radius:4px;"></div><span class="t" style="left:1062.60px;top:221.00px;font-size:14px;color:#8a8a8a;">0</span><div class="a" style="left:1126px;top:211px;width:68px;height:32px;border:1px solid #c2c2c2;border-radius:4px;box-shadow:0 1px 1.5px rgba(0,0,0,.06);"></div><span class="t" style="left:1139.30px;top:221.00px;font-size:14px;letter-spacing:0.346px;color:#141414;">0.25</span><div class="a" style="left:1206px;top:211px;width:90px;height:32px;border:1px solid #c2c2c2;border-radius:4px;box-shadow:0 1px 1.5px rgba(0,0,0,.06);"></div><span class="t" style="left:1219.80px;top:221.00px;font-size:14px;letter-spacing:0.353px;color:#141414;">750.00</span><div class="a" style="left:0px;top:250.5px;width:1275px;height:1px;background:#c6c6c6;"></div><svg class="a" style="left:8px;top:268px;" width="16" height="16" viewBox="0 0 24 24" fill="none" stroke="#454545" stroke-width="2" stroke-linecap="round" stroke-linejoin="round"><circle cx="9" cy="12" r="1"/><circle cx="9" cy="5" r="1"/><circle cx="9" cy="19" r="1"/><circle cx="15" cy="12" r="1"/><circle cx="15" cy="5" r="1"/><circle cx="15" cy="19" r="1"/></svg><div class="a" style="left:58px;top:260px;width:120px;height:32px;border:1px solid #c2c2c2;border-radius:4px;box-shadow:0 1px 1.5px rgba(0,0,0,.06);"></div><span class="t" style="left:70.50px;top:269.00px;font-size:14px;letter-spacing:0.643px;color:#141414;">Branded</span><svg class="a" style="left:145px;top:268px;" width="16" height="16" viewBox="0 0 24 24" fill="none" stroke="#7d7d7d" stroke-width="1.6" stroke-linecap="round" stroke-linejoin="round"><path d="m6 9 6 6 6-6"/></svg><div class="a" style="left:190px;top:260px;width:128px;height:32px;border:1px solid #c2c2c2;border-radius:4px;box-shadow:0 1px 1.5px rgba(0,0,0,.06);"></div><span class="t" style="left:203.50px;top:269.00px;font-size:14px;letter-spacing:0.294px;color:#141414;">Sucker Rod</span><svg class="a" style="left:285px;top:268px;" width="16" height="16" viewBox="0 0 24 24" fill="none" stroke="#7d7d7d" stroke-width="1.6" stroke-linecap="round" stroke-linejoin="round"><path d="m6 9 6 6 6-6"/></svg><div class="a" style="left:330px;top:260px;width:144px;height:32px;border:1px solid #c2c2c2;border-radius:4px;box-shadow:0 1px 1.5px rgba(0,0,0,.06);"></div><span class="t" style="left:343.50px;top:269.00px;font-size:14px;letter-spacing:0.600px;color:#141414;">Weatherford</span><svg class="a" style="left:441px;top:268px;" width="16" height="16" viewBox="0 0 24 24" fill="none" stroke="#7d7d7d" stroke-width="1.6" stroke-linecap="round" stroke-linejoin="round"><path d="m6 9 6 6 6-6"/></svg><div class="a" style="left:486px;top:260px;width:96px;height:32px;border:1px solid #c2c2c2;border-radius:4px;box-shadow:0 1px 1.5px rgba(0,0,0,.06);"></div><span class="t" style="left:498.50px;top:269.00px;font-size:14px;letter-spacing:0.390px;color:#141414;">HD</span><svg class="a" style="left:549px;top:268px;" width="16" height="16" viewBox="0 0 24 24" fill="none" stroke="#7d7d7d" stroke-width="1.6" stroke-linecap="round" stroke-linejoin="round"><path d="m6 9 6 6 6-6"/></svg><div class="a" style="left:594px;top:260px;width:112px;height:32px;border:1px solid #c2c2c2;border-radius:4px;box-shadow:0 1px 1.5px rgba(0,0,0,.06);"></div><span class="t" style="left:606.50px;top:269.00px;font-size:14px;color:#141414;">1</span><svg class="a" style="left:673px;top:268px;" width="16" height="16" viewBox="0 0 24 24" fill="none" stroke="#7d7d7d" stroke-width="1.6" stroke-linecap="round" stroke-linejoin="round"><path d="m6 9 6 6 6-6"/></svg><div class="a" style="left:718px;top:260px;width:102px;height:32px;border:1px solid #c2c2c2;border-radius:4px;box-shadow:0 1px 1.5px rgba(0,0,0,.06);"></div><span class="t" style="left:731.50px;top:269.00px;font-size:14px;letter-spacing:0.296px;color:#141414;">T/2.8</span><svg class="a" style="left:787px;top:268px;" width="16" height="16" viewBox="0 0 24 24" fill="none" stroke="#7d7d7d" stroke-width="1.6" stroke-linecap="round" stroke-linejoin="round"><path d="m6 9 6 6 6-6"/></svg><svg class="a" style="left:857px;top:267px" width="16" height="16" viewBox="0 0 16 16"><rect width="16" height="16" rx="3.500" fill="#19309c"/><path d="M3.800 8.300 6.700 11.100 12.300 5.200" fill="none" stroke="#f1f3fb" stroke-width="1.500" stroke-linecap="round" stroke-linejoin="round"/></svg><div class="a" style="left:910px;top:260px;width:127px;height:32px;border:1px solid #c2c2c2;border-radius:4px;box-shadow:0 1px 1.5px rgba(0,0,0,.06);"></div><span class="t" style="left:922.60px;top:269.00px;font-size:14px;letter-spacing:0.482px;color:#141414;">Molded AU</span><svg class="a" style="left:1008px;top:268px;" width="16" height="16" viewBox="0 0 24 24" fill="none" stroke="#555" stroke-width="1.7" stroke-linecap="round" stroke-linejoin="round"><path d="m7 15 5 5 5-5"/><path d="m7 9 5-5 5 5"/></svg><div class="a" style="left:1049px;top:260px;width:65px;height:32px;border:1px solid #cccccc;border-radius:4px;"></div><span class="t" style="left:1062.60px;top:270.00px;font-size:14px;color:#8a8a8a;">4</span><div class="a" style="left:1126px;top:260px;width:68px;height:32px;border:1px solid #c2c2c2;border-radius:4px;box-shadow:0 1px 1.5px rgba(0,0,0,.06);"></div><span class="t" style="left:1139.30px;top:270.00px;font-size:14px;letter-spacing:0.346px;color:#141414;">0.25</span><div class="a" style="left:1206px;top:260px;width:90px;height:32px;border:1px solid #c2c2c2;border-radius:4px;box-shadow:0 1px 1.5px rgba(0,0,0,.06);"></div><span class="t" style="left:1218.80px;top:270.00px;font-size:14px;letter-spacing:0.247px;color:#141414;">1350.00</span><div class="a" style="left:0px;top:299.5px;width:1275px;height:1px;background:#c6c6c6;"></div><svg class="a" style="left:8px;top:317px;" width="16" height="16" viewBox="0 0 24 24" fill="none" stroke="#454545" stroke-width="2" stroke-linecap="round" stroke-linejoin="round"><circle cx="9" cy="12" r="1"/><circle cx="9" cy="5" r="1"/><circle cx="9" cy="19" r="1"/><circle cx="15" cy="12" r="1"/><circle cx="15" cy="5" r="1"/><circle cx="15" cy="19" r="1"/></svg><div class="a" style="left:58px;top:309px;width:120px;height:32px;border:1px solid #c2c2c2;border-radius:4px;box-shadow:0 1px 1.5px rgba(0,0,0,.06);"></div><span class="t" style="left:70.50px;top:318.00px;font-size:14px;letter-spacing:0.643px;color:#141414;">Branded</span><svg class="a" style="left:145px;top:317px;" width="16" height="16" viewBox="0 0 24 24" fill="none" stroke="#7d7d7d" stroke-width="1.6" stroke-linecap="round" stroke-linejoin="round"><path d="m6 9 6 6 6-6"/></svg><div class="a" style="left:190px;top:309px;width:128px;height:32px;border:1px solid #c2c2c2;border-radius:4px;box-shadow:0 1px 1.5px rgba(0,0,0,.06);"></div><span class="t" style="left:203.50px;top:318.00px;font-size:14px;letter-spacing:0.294px;color:#141414;">Sucker Rod</span><svg class="a" style="left:285px;top:317px;" width="16" height="16" viewBox="0 0 24 24" fill="none" stroke="#7d7d7d" stroke-width="1.6" stroke-linecap="round" stroke-linejoin="round"><path d="m6 9 6 6 6-6"/></svg><div class="a" style="left:330px;top:309px;width:144px;height:32px;border:1px solid #c2c2c2;border-radius:4px;box-shadow:0 1px 1.5px rgba(0,0,0,.06);"></div><span class="t" style="left:343.50px;top:318.00px;font-size:14px;letter-spacing:0.600px;color:#141414;">Weatherford</span><svg class="a" style="left:441px;top:317px;" width="16" height="16" viewBox="0 0 24 24" fill="none" stroke="#7d7d7d" stroke-width="1.6" stroke-linecap="round" stroke-linejoin="round"><path d="m6 9 6 6 6-6"/></svg><div class="a" style="left:486px;top:309px;width:96px;height:32px;border:1px solid #c2c2c2;border-radius:4px;box-shadow:0 1px 1.5px rgba(0,0,0,.06);"></div><span class="t" style="left:498.50px;top:318.00px;font-size:14px;letter-spacing:0.390px;color:#141414;">HD</span><svg class="a" style="left:549px;top:317px;" width="16" height="16" viewBox="0 0 24 24" fill="none" stroke="#7d7d7d" stroke-width="1.6" stroke-linecap="round" stroke-linejoin="round"><path d="m6 9 6 6 6-6"/></svg><div class="a" style="left:594px;top:309px;width:112px;height:32px;border:1px solid #c2c2c2;border-radius:4px;box-shadow:0 1px 1.5px rgba(0,0,0,.06);"></div><span class="t" style="left:607.50px;top:318.00px;font-size:14px;letter-spacing:0.662px;color:#141414;">7/8</span><svg class="a" style="left:673px;top:317px;" width="16" height="16" viewBox="0 0 24 24" fill="none" stroke="#7d7d7d" stroke-width="1.6" stroke-linecap="round" stroke-linejoin="round"><path d="m6 9 6 6 6-6"/></svg><div class="a" style="left:718px;top:309px;width:102px;height:32px;border:1px solid #c2c2c2;border-radius:4px;box-shadow:0 1px 1.5px rgba(0,0,0,.06);"></div><span class="t" style="left:731.50px;top:318.00px;font-size:14px;letter-spacing:0.296px;color:#141414;">T/2.8</span><svg class="a" style="left:787px;top:317px;" width="16" height="16" viewBox="0 0 24 24" fill="none" stroke="#7d7d7d" stroke-width="1.6" stroke-linecap="round" stroke-linejoin="round"><path d="m6 9 6 6 6-6"/></svg><svg class="a" style="left:857px;top:316px" width="16" height="16" viewBox="0 0 16 16"><rect width="16" height="16" rx="3.500" fill="#19309c"/><path d="M3.800 8.300 6.700 11.100 12.300 5.200" fill="none" stroke="#f1f3fb" stroke-width="1.500" stroke-linecap="round" stroke-linejoin="round"/></svg><div class="a" style="left:910px;top:309px;width:127px;height:32px;border:1px solid #c2c2c2;border-radius:4px;box-shadow:0 1px 1.5px rgba(0,0,0,.06);"></div><span class="t" style="left:922.60px;top:318.00px;font-size:14px;letter-spacing:0.482px;color:#141414;">Molded AU</span><svg class="a" style="left:1008px;top:317px;" width="16" height="16" viewBox="0 0 24 24" fill="none" stroke="#555" stroke-width="1.7" stroke-linecap="round" stroke-linejoin="round"><path d="m7 15 5 5 5-5"/><path d="m7 9 5-5 5 5"/></svg><div class="a" style="left:1049px;top:309px;width:65px;height:32px;border:1px solid #cccccc;border-radius:4px;"></div><span class="t" style="left:1062.60px;top:319.00px;font-size:14px;color:#8a8a8a;">4</span><div class="a" style="left:1126px;top:309px;width:68px;height:32px;border:1px solid #c2c2c2;border-radius:4px;box-shadow:0 1px 1.5px rgba(0,0,0,.06);"></div><span class="t" style="left:1139.30px;top:319.00px;font-size:14px;letter-spacing:0.346px;color:#141414;">0.25</span><div class="a" style="left:1206px;top:309px;width:90px;height:32px;border:1px solid #c2c2c2;border-radius:4px;box-shadow:0 1px 1.5px rgba(0,0,0,.06);"></div><span class="t" style="left:1218.80px;top:319.00px;font-size:14px;letter-spacing:0.330px;color:#141414;">1450.00</span><div class="a" style="left:0px;top:348.5px;width:1275px;height:1px;background:#c6c6c6;"></div><svg class="a" style="left:8px;top:366px;" width="16" height="16" viewBox="0 0 24 24" fill="none" stroke="#454545" stroke-width="2" stroke-linecap="round" stroke-linejoin="round"><circle cx="9" cy="12" r="1"/><circle cx="9" cy="5" r="1"/><circle cx="9" cy="19" r="1"/><circle cx="15" cy="12" r="1"/><circle cx="15" cy="5" r="1"/><circle cx="15" cy="19" r="1"/></svg><div class="a" style="left:58px;top:358px;width:120px;height:32px;border:1px solid #c2c2c2;border-radius:4px;box-shadow:0 1px 1.5px rgba(0,0,0,.06);"></div><span class="t" style="left:70.50px;top:367.00px;font-size:14px;letter-spacing:0.643px;color:#141414;">Branded</span><svg class="a" style="left:145px;top:366px;" width="16" height="16" viewBox="0 0 24 24" fill="none" stroke="#7d7d7d" stroke-width="1.6" stroke-linecap="round" stroke-linejoin="round"><path d="m6 9 6 6 6-6"/></svg><div class="a" style="left:190px;top:358px;width:128px;height:32px;border:1px solid #c2c2c2;border-radius:4px;box-shadow:0 1px 1.5px rgba(0,0,0,.06);"></div><span class="t" style="left:203.50px;top:367.00px;font-size:14px;letter-spacing:0.294px;color:#141414;">Sucker Rod</span><svg class="a" style="left:285px;top:366px;" width="16" height="16" viewBox="0 0 24 24" fill="none" stroke="#7d7d7d" stroke-width="1.6" stroke-linecap="round" stroke-linejoin="round"><path d="m6 9 6 6 6-6"/></svg><div class="a" style="left:330px;top:358px;width:144px;height:32px;border:1px solid #c2c2c2;border-radius:4px;box-shadow:0 1px 1.5px rgba(0,0,0,.06);"></div><span class="t" style="left:343.50px;top:367.00px;font-size:14px;letter-spacing:0.600px;color:#141414;">Weatherford</span><svg class="a" style="left:441px;top:366px;" width="16" height="16" viewBox="0 0 24 24" fill="none" stroke="#7d7d7d" stroke-width="1.6" stroke-linecap="round" stroke-linejoin="round"><path d="m6 9 6 6 6-6"/></svg><div class="a" style="left:486px;top:358px;width:96px;height:32px;border:1px solid #c2c2c2;border-radius:4px;box-shadow:0 1px 1.5px rgba(0,0,0,.06);"></div><span class="t" style="left:498.50px;top:367.00px;font-size:14px;letter-spacing:0.390px;color:#141414;">HD</span><svg class="a" style="left:549px;top:366px;" width="16" height="16" viewBox="0 0 24 24" fill="none" stroke="#7d7d7d" stroke-width="1.6" stroke-linecap="round" stroke-linejoin="round"><path d="m6 9 6 6 6-6"/></svg><div class="a" style="left:594px;top:358px;width:112px;height:32px;border:1px solid #c2c2c2;border-radius:4px;box-shadow:0 1px 1.5px rgba(0,0,0,.06);"></div><span class="t" style="left:607.50px;top:367.00px;font-size:14px;letter-spacing:0.662px;color:#141414;">7/8</span><svg class="a" style="left:673px;top:366px;" width="16" height="16" viewBox="0 0 24 24" fill="none" stroke="#7d7d7d" stroke-width="1.6" stroke-linecap="round" stroke-linejoin="round"><path d="m6 9 6 6 6-6"/></svg><div class="a" style="left:718px;top:358px;width:102px;height:32px;border:1px solid #c2c2c2;border-radius:4px;box-shadow:0 1px 1.5px rgba(0,0,0,.06);"></div><span class="t" style="left:731.50px;top:367.00px;font-size:14px;letter-spacing:0.296px;color:#141414;">T/2.8</span><svg class="a" style="left:787px;top:366px;" width="16" height="16" viewBox="0 0 24 24" fill="none" stroke="#7d7d7d" stroke-width="1.6" stroke-linecap="round" stroke-linejoin="round"><path d="m6 9 6 6 6-6"/></svg><div class="a" style="left:857px;top:365px;width:16px;height:16px;background:#dcdcdc;border:1px solid #bdbdbd;border-radius:4px;"></div><div class="a" style="left:910px;top:358px;width:127px;height:32px;background:#d0d0d0;border:1px solid #c4c4c4;border-radius:4px;"></div><span class="t" style="left:923.60px;top:367.00px;font-size:14px;letter-spacing:0.196px;color:#6c6c6c;">Select</span><svg class="a" style="left:1008px;top:366px;" width="16" height="16" viewBox="0 0 24 24" fill="none" stroke="#555" stroke-width="1.7" stroke-linecap="round" stroke-linejoin="round"><path d="m7 15 5 5 5-5"/><path d="m7 9 5-5 5 5"/></svg><div class="a" style="left:1049px;top:358px;width:65px;height:32px;border:1px solid #cccccc;border-radius:4px;"></div><span class="t" style="left:1062.60px;top:368.00px;font-size:14px;color:#8a8a8a;">0</span><div class="a" style="left:1126px;top:358px;width:68px;height:32px;border:1px solid #c2c2c2;border-radius:4px;box-shadow:0 1px 1.5px rgba(0,0,0,.06);"></div><span class="t" style="left:1139.30px;top:368.00px;font-size:14px;letter-spacing:0.346px;color:#141414;">0.25</span><div class="a" style="left:1206px;top:358px;width:90px;height:32px;border:1px solid #c2c2c2;border-radius:4px;box-shadow:0 1px 1.5px rgba(0,0,0,.06);"></div><span class="t" style="left:1219.80px;top:368.00px;font-size:14px;letter-spacing:0.353px;color:#141414;">675.00</span><div class="a" style="left:0px;top:397.5px;width:1275px;height:1px;background:#c6c6c6;"></div><svg class="a" style="left:8px;top:415px;" width="16" height="16" viewBox="0 0 24 24" fill="none" stroke="#454545" stroke-width="2" stroke-linecap="round" stroke-linejoin="round"><circle cx="9" cy="12" r="1"/><circle cx="9" cy="5" r="1"/><circle cx="9" cy="19" r="1"/><circle cx="15" cy="12" r="1"/><circle cx="15" cy="5" r="1"/><circle cx="15" cy="19" r="1"/></svg><div class="a" style="left:58px;top:407px;width:120px;height:32px;border:1px solid #c2c2c2;border-radius:4px;box-shadow:0 1px 1.5px rgba(0,0,0,.06);"></div><span class="t" style="left:70.50px;top:416.00px;font-size:14px;letter-spacing:0.643px;color:#141414;">Branded</span><svg class="a" style="left:145px;top:415px;" width="16" height="16" viewBox="0 0 24 24" fill="none" stroke="#7d7d7d" stroke-width="1.6" stroke-linecap="round" stroke-linejoin="round"><path d="m6 9 6 6 6-6"/></svg><div class="a" style="left:190px;top:407px;width:128px;height:32px;border:1px solid #c2c2c2;border-radius:4px;box-shadow:0 1px 1.5px rgba(0,0,0,.06);"></div><span class="t" style="left:203.50px;top:416.00px;font-size:14px;letter-spacing:0.145px;color:#141414;">Sinker Bar</span><svg class="a" style="left:285px;top:415px;" width="16" height="16" viewBox="0 0 24 24" fill="none" stroke="#7d7d7d" stroke-width="1.6" stroke-linecap="round" stroke-linejoin="round"><path d="m6 9 6 6 6-6"/></svg><div class="a" style="left:330px;top:407px;width:144px;height:32px;border:1px solid #c2c2c2;border-radius:4px;box-shadow:0 1px 1.5px rgba(0,0,0,.06);"></div><span class="t" style="left:343.50px;top:416.00px;font-size:14px;letter-spacing:0.162px;color:#141414;">API</span><svg class="a" style="left:441px;top:415px;" width="16" height="16" viewBox="0 0 24 24" fill="none" stroke="#7d7d7d" stroke-width="1.6" stroke-linecap="round" stroke-linejoin="round"><path d="m6 9 6 6 6-6"/></svg><div class="a" style="left:486px;top:407px;width:96px;height:32px;border:1px solid #c2c2c2;border-radius:4px;box-shadow:0 1px 1.5px rgba(0,0,0,.06);"></div><div class="clip" style="left:487px;top:408px;width:62px;height:30px"><span class="t" style="left:11.00px;top:8.00px;font-size:14px;letter-spacing:0.345px;color:#141414;">D (Sinker Bar)</span></div><svg class="a" style="left:549px;top:415px;" width="16" height="16" viewBox="0 0 24 24" fill="none" stroke="#7d7d7d" stroke-width="1.6" stroke-linecap="round" stroke-linejoin="round"><path d="m6 9 6 6 6-6"/></svg><div class="a" style="left:594px;top:407px;width:112px;height:32px;border:1px solid #c2c2c2;border-radius:4px;box-shadow:0 1px 1.5px rgba(0,0,0,.06);"></div><span class="t" style="left:606.50px;top:416.00px;font-size:14px;letter-spacing:-0.538px;color:#141414;">1 1/2</span><svg class="a" style="left:673px;top:415px;" width="16" height="16" viewBox="0 0 24 24" fill="none" stroke="#7d7d7d" stroke-width="1.6" stroke-linecap="round" stroke-linejoin="round"><path d="m6 9 6 6 6-6"/></svg><div class="a" style="left:718px;top:407px;width:102px;height:32px;border:1px solid #c2c2c2;border-radius:4px;box-shadow:0 1px 1.5px rgba(0,0,0,.06);"></div><span class="t" style="left:731.50px;top:416.00px;font-size:14px;letter-spacing:0.429px;color:#141414;">T/4</span><svg class="a" style="left:787px;top:415px;" width="16" height="16" viewBox="0 0 24 24" fill="none" stroke="#7d7d7d" stroke-width="1.6" stroke-linecap="round" stroke-linejoin="round"><path d="m6 9 6 6 6-6"/></svg><div class="a" style="left:857px;top:414px;width:16px;height:16px;background:#dadada;border:1px solid #cccccc;border-radius:4px;"></div><div class="a" style="left:910px;top:407px;width:127px;height:32px;background:#d0d0d0;border:1px solid #c4c4c4;border-radius:4px;"></div><span class="t" style="left:923.60px;top:416.00px;font-size:14px;letter-spacing:0.196px;color:#6c6c6c;">Select</span><svg class="a" style="left:1008px;top:415px;" width="16" height="16" viewBox="0 0 24 24" fill="none" stroke="#555" stroke-width="1.7" stroke-linecap="round" stroke-linejoin="round"><path d="m7 15 5 5 5-5"/><path d="m7 9 5-5 5 5"/></svg><div class="a" style="left:1049px;top:407px;width:65px;height:32px;border:1px solid #cccccc;border-radius:4px;"></div><span class="t" style="left:1062.60px;top:417.00px;font-size:14px;color:#8a8a8a;">0</span><div class="a" style="left:1126px;top:407px;width:68px;height:32px;border:1px solid #c2c2c2;border-radius:4px;box-shadow:0 1px 1.5px rgba(0,0,0,.06);"></div><span class="t" style="left:1139.30px;top:417.00px;font-size:14px;letter-spacing:0.346px;color:#141414;">0.25</span><div class="a" style="left:1206px;top:407px;width:90px;height:32px;border:1px solid #c2c2c2;border-radius:4px;box-shadow:0 1px 1.5px rgba(0,0,0,.06);"></div><span class="t" style="left:1219.80px;top:417.00px;font-size:14px;letter-spacing:-0.087px;color:#141414;">516.00</span><div class="a" style="left:0px;top:447px;width:1275px;height:1px;background:#c8c8c8;"></div><div class="a" style="left:0px;top:448px;width:1275px;height:16px;background:#d5d5d5;"></div><div class="a" style="left:3px;top:451px;width:1158px;height:8px;background:#a6a6a6;border-radius:4px;"></div></div><div class="a" style="left:329px;top:534px;width:242px;height:600px;border:1px solid #c8c8c8;border-radius:8px;"></div><span class="t" style="left:353.77px;top:560.00px;font-size:16px;letter-spacing:0.607px;color:#0d0d0d;-webkit-text-stroke:0.55px currentColor;">Dogleg Severity</span><svg class="a" style="left:484.2px;top:559px;" width="16" height="16" viewBox="0 0 24 24" fill="none" stroke="#4a4a4a" stroke-width="1.75" stroke-linecap="round" stroke-linejoin="round"><circle cx="12" cy="12" r="10"/><path d="M12 16v-4"/><path d="M12 8h.01"/></svg><svg class="a" style="left:330px;top:600px" width="240" height="480" viewBox="330 600 240 480" shape-rendering="auto"><rect x="438.1" y="619" width="1" height="470" fill="#cbcbcb"/><rect x="466" y="619" width="1" height="470" fill="#cbcbcb"/><rect x="494" y="619" width="1" height="470" fill="#cbcbcb"/><rect x="521.9" y="619" width="1" height="470" fill="#cbcbcb"/><path d="M410 624.60H417.0V626.40H419.7V627.90H417.0V629.40H415.0V631.25H414.0V634.00H414.0V637.10H412.0V639.85H415.5V642.75H412.0V645.75H411.0V648.00H415.5V650.25H414.0V652.40H418.5V654.40H437.0V656.50H482.0V658.25H478.0V659.70H441.0V661.05H436.0V662.70H424.0V664.55H416.0V666.05H425.0V667.35H441.0V668.60H463.5V669.70H445.0V670.95H436.0V672.50H423.0V674.15H417.0V676.00H414.0V678.00H421.5V679.70H414.0V681.45H412.5V684.30H410Z" fill="#12671f" fill-opacity=".62"/><rect x="410" y="624.60" width="7.0" height="1.68" fill="#12671f"/><rect x="410" y="626.40" width="9.7" height="1.38" fill="#12671f"/><rect x="410" y="627.90" width="7.0" height="1.38" fill="#12671f"/><rect x="410" y="629.40" width="5.0" height="1.73" fill="#12671f"/><rect x="410" y="631.25" width="4.0" height="2.63" fill="#12671f"/><rect x="410" y="634.00" width="4.0" height="2.98" fill="#12671f"/><rect x="410" y="637.10" width="2.0" height="2.63" fill="#12671f"/><rect x="410" y="639.85" width="5.5" height="2.78" fill="#12671f"/><rect x="410" y="642.75" width="2.0" height="2.88" fill="#12671f"/><rect x="410" y="645.75" width="1.0" height="2.13" fill="#12671f"/><rect x="410" y="648.00" width="5.5" height="2.13" fill="#12671f"/><rect x="410" y="650.25" width="4.0" height="2.03" fill="#12671f"/><rect x="410" y="652.40" width="8.5" height="1.88" fill="#12671f"/><rect x="410" y="654.40" width="27.0" height="1.98" fill="#12671f"/><rect x="410" y="656.50" width="72.0" height="1.63" fill="#12671f"/><rect x="410" y="658.25" width="68.0" height="1.33" fill="#12671f"/><rect x="410" y="659.70" width="31.0" height="1.23" fill="#12671f"/><rect x="410" y="661.05" width="26.0" height="1.53" fill="#12671f"/><rect x="410" y="662.70" width="14.0" height="1.73" fill="#12671f"/><rect x="410" y="664.55" width="6.0" height="1.38" fill="#12671f"/><rect x="410" y="666.05" width="15.0" height="1.18" fill="#12671f"/><rect x="410" y="667.35" width="31.0" height="1.13" fill="#12671f"/><rect x="410" y="668.60" width="53.5" height="0.98" fill="#12671f"/><rect x="410" y="669.70" width="35.0" height="1.13" fill="#12671f"/><rect x="410" y="670.95" width="26.0" height="1.43" fill="#12671f"/><rect x="410" y="672.50" width="13.0" height="1.53" fill="#12671f"/><rect x="410" y="674.15" width="7.0" height="1.73" fill="#12671f"/><rect x="410" y="676.00" width="4.0" height="1.88" fill="#12671f"/><rect x="410" y="678.00" width="11.5" height="1.58" fill="#12671f"/><rect x="410" y="679.70" width="4.0" height="1.63" fill="#12671f"/><rect x="410" y="681.45" width="2.5" height="2.73" fill="#12671f"/><path d="M410 684.30H418.0V686.45H413.0V688.10H414.0V689.75H413.0V692.05H415.5V694.45H419.5V696.35H417.0V697.80H414.0V699.25H416.0V700.85H414.5V702.50H415.5V704.15H413.5V705.85H412.5V707.50H417.0V709.05H418.0V710.50H415.5V711.85H413.0V713.75H416.5V716.00H414.0V717.85H425.0V719.35H427.0V720.75H421.0V722.00H425.5V723.10H427.0V724.35H419.0V725.60H424.0V726.85H418.0V728.25H417.0V729.90H420.0V731.40H412.0V732.85H419.0V734.35H447.0V735.60H435.0V737.10H419.0V738.60H423.0V739.80H415.0V741.05H421.0V742.35H414.5V743.80H411.5V746.05H421.0V748.35H413.5V749.80H417.5V751.05H418.5V752.50H415.0V754.35H416.0V756.05H413.0V757.35H422.0V758.60H414.5V760.00H414.0V761.65H415.5V763.00H415.5V764.25H411.0V765.85H412.0V767.70H414.0V770.10H415.5V772.60H413.0V774.55H415.5V776.45H412.5V778.35H411.0V780.45H419.0V782.50H417.0V784.35H413.0V786.45H419.0V788.35H415.0V790.00H426.0V791.65H418.5V793.35H416.0V795.10H420.5V796.75H414.0V798.35H418.0V800.10H424.5V801.75H415.0V803.35H416.0V805.00H418.0V806.65H422.5V808.10H418.0V809.35H420.5V810.85H413.0V812.50H420.0V814.15H429.5V815.60H420.5V816.85H421.5V818.35H414.0V819.60H425.5V820.60H420.0V821.95H424.5V823.45H419.0V824.80H422.5V825.95H430.5V827.25H423.5V828.60H425.5V829.80H419.0V831.05H431.0V832.90H410Z" fill="#df0c29" fill-opacity=".62"/><rect x="410" y="684.30" width="8.0" height="2.03" fill="#df0c29"/><rect x="410" y="686.45" width="3.0" height="1.53" fill="#df0c29"/><rect x="410" y="688.10" width="4.0" height="1.53" fill="#df0c29"/><rect x="410" y="689.75" width="3.0" height="2.18" fill="#df0c29"/><rect x="410" y="692.05" width="5.5" height="2.28" fill="#df0c29"/><rect x="410" y="694.45" width="9.5" height="1.78" fill="#df0c29"/><rect x="410" y="696.35" width="7.0" height="1.33" fill="#df0c29"/><rect x="410" y="697.80" width="4.0" height="1.33" fill="#df0c29"/><rect x="410" y="699.25" width="6.0" height="1.48" fill="#df0c29"/><rect x="410" y="700.85" width="4.5" height="1.53" fill="#df0c29"/><rect x="410" y="702.50" width="5.5" height="1.53" fill="#df0c29"/><rect x="410" y="704.15" width="3.5" height="1.58" fill="#df0c29"/><rect x="410" y="705.85" width="2.5" height="1.53" fill="#df0c29"/><rect x="410" y="707.50" width="7.0" height="1.43" fill="#df0c29"/><rect x="410" y="709.05" width="8.0" height="1.33" fill="#df0c29"/><rect x="410" y="710.50" width="5.5" height="1.23" fill="#df0c29"/><rect x="410" y="711.85" width="3.0" height="1.78" fill="#df0c29"/><rect x="410" y="713.75" width="6.5" height="2.13" fill="#df0c29"/><rect x="410" y="716.00" width="4.0" height="1.73" fill="#df0c29"/><rect x="410" y="717.85" width="15.0" height="1.38" fill="#df0c29"/><rect x="410" y="719.35" width="17.0" height="1.28" fill="#df0c29"/><rect x="410" y="720.75" width="11.0" height="1.13" fill="#df0c29"/><rect x="410" y="722.00" width="15.5" height="0.98" fill="#df0c29"/><rect x="410" y="723.10" width="17.0" height="1.13" fill="#df0c29"/><rect x="410" y="724.35" width="9.0" height="1.13" fill="#df0c29"/><rect x="410" y="725.60" width="14.0" height="1.13" fill="#df0c29"/><rect x="410" y="726.85" width="8.0" height="1.28" fill="#df0c29"/><rect x="410" y="728.25" width="7.0" height="1.53" fill="#df0c29"/><rect x="410" y="729.90" width="10.0" height="1.38" fill="#df0c29"/><rect x="410" y="731.40" width="2.0" height="1.33" fill="#df0c29"/><rect x="410" y="732.85" width="9.0" height="1.38" fill="#df0c29"/><rect x="410" y="734.35" width="37.0" height="1.13" fill="#df0c29"/><rect x="410" y="735.60" width="25.0" height="1.38" fill="#df0c29"/><rect x="410" y="737.10" width="9.0" height="1.38" fill="#df0c29"/><rect x="410" y="738.60" width="13.0" height="1.08" fill="#df0c29"/><rect x="410" y="739.80" width="5.0" height="1.13" fill="#df0c29"/><rect x="410" y="741.05" width="11.0" height="1.18" fill="#df0c29"/><rect x="410" y="742.35" width="4.5" height="1.33" fill="#df0c29"/><rect x="410" y="743.80" width="1.5" height="2.13" fill="#df0c29"/><rect x="410" y="746.05" width="11.0" height="2.18" fill="#df0c29"/><rect x="410" y="748.35" width="3.5" height="1.33" fill="#df0c29"/><rect x="410" y="749.80" width="7.5" height="1.13" fill="#df0c29"/><rect x="410" y="751.05" width="8.5" height="1.33" fill="#df0c29"/><rect x="410" y="752.50" width="5.0" height="1.73" fill="#df0c29"/><rect x="410" y="754.35" width="6.0" height="1.58" fill="#df0c29"/><rect x="410" y="756.05" width="3.0" height="1.18" fill="#df0c29"/><rect x="410" y="757.35" width="12.0" height="1.13" fill="#df0c29"/><rect x="410" y="758.60" width="4.5" height="1.28" fill="#df0c29"/><rect x="410" y="760.00" width="4.0" height="1.53" fill="#df0c29"/><rect x="410" y="761.65" width="5.5" height="1.23" fill="#df0c29"/><rect x="410" y="763.00" width="5.5" height="1.13" fill="#df0c29"/><rect x="410" y="764.25" width="1.0" height="1.48" fill="#df0c29"/><rect x="410" y="765.85" width="2.0" height="1.73" fill="#df0c29"/><rect x="410" y="767.70" width="4.0" height="2.28" fill="#df0c29"/><rect x="410" y="770.10" width="5.5" height="2.38" fill="#df0c29"/><rect x="410" y="772.60" width="3.0" height="1.83" fill="#df0c29"/><rect x="410" y="774.55" width="5.5" height="1.78" fill="#df0c29"/><rect x="410" y="776.45" width="2.5" height="1.78" fill="#df0c29"/><rect x="410" y="778.35" width="1.0" height="1.98" fill="#df0c29"/><rect x="410" y="780.45" width="9.0" height="1.93" fill="#df0c29"/><rect x="410" y="782.50" width="7.0" height="1.73" fill="#df0c29"/><rect x="410" y="784.35" width="3.0" height="1.98" fill="#df0c29"/><rect x="410" y="786.45" width="9.0" height="1.78" fill="#df0c29"/><rect x="410" y="788.35" width="5.0" height="1.53" fill="#df0c29"/><rect x="410" y="790.00" width="16.0" height="1.53" fill="#df0c29"/><rect x="410" y="791.65" width="8.5" height="1.58" fill="#df0c29"/><rect x="410" y="793.35" width="6.0" height="1.63" fill="#df0c29"/><rect x="410" y="795.10" width="10.5" height="1.53" fill="#df0c29"/><rect x="410" y="796.75" width="4.0" height="1.48" fill="#df0c29"/><rect x="410" y="798.35" width="8.0" height="1.63" fill="#df0c29"/><rect x="410" y="800.10" width="14.5" height="1.53" fill="#df0c29"/><rect x="410" y="801.75" width="5.0" height="1.48" fill="#df0c29"/><rect x="410" y="803.35" width="6.0" height="1.53" fill="#df0c29"/><rect x="410" y="805.00" width="8.0" height="1.53" fill="#df0c29"/><rect x="410" y="806.65" width="12.5" height="1.33" fill="#df0c29"/><rect x="410" y="808.10" width="8.0" height="1.13" fill="#df0c29"/><rect x="410" y="809.35" width="10.5" height="1.38" fill="#df0c29"/><rect x="410" y="810.85" width="3.0" height="1.53" fill="#df0c29"/><rect x="410" y="812.50" width="10.0" height="1.53" fill="#df0c29"/><rect x="410" y="814.15" width="19.5" height="1.33" fill="#df0c29"/><rect x="410" y="815.60" width="10.5" height="1.13" fill="#df0c29"/><rect x="410" y="816.85" width="11.5" height="1.38" fill="#df0c29"/><rect x="410" y="818.35" width="4.0" height="1.13" fill="#df0c29"/><rect x="410" y="819.60" width="15.5" height="0.88" fill="#df0c29"/><rect x="410" y="820.60" width="10.0" height="1.23" fill="#df0c29"/><rect x="410" y="821.95" width="14.5" height="1.38" fill="#df0c29"/><rect x="410" y="823.45" width="9.0" height="1.23" fill="#df0c29"/><rect x="410" y="824.80" width="12.5" height="1.03" fill="#df0c29"/><rect x="410" y="825.95" width="20.5" height="1.18" fill="#df0c29"/><rect x="410" y="827.25" width="13.5" height="1.23" fill="#df0c29"/><rect x="410" y="828.60" width="15.5" height="1.08" fill="#df0c29"/><rect x="410" y="829.80" width="9.0" height="1.13" fill="#df0c29"/><rect x="410" y="831.05" width="21.0" height="1.73" fill="#df0c29"/><path d="M410 832.90H428.5V834.70H420.5V836.05H419.5V837.50H420.5V839.15H420.5V840.85H431.5V842.35H424.0V843.60H426.5V845.00H423.5V846.90H432.5V848.60H426.0V849.80H438.5V851.05H422.0V852.35H430.5V853.80H423.0V855.20H432.5V856.65H433.5V858.35H430.0V860.00H441.0V861.65H447.5V863.35H438.5V865.00H439.5V866.45H436.0V867.65H450.5V868.90H443.0V870.20H449.5V871.85H440.5V873.75H436.0V875.40H439.0V877.25H447.0V878.85H443.0V880.20H410Z" fill="#77106f" fill-opacity=".62"/><rect x="410" y="832.90" width="18.5" height="1.68" fill="#77106f"/><rect x="410" y="834.70" width="10.5" height="1.23" fill="#77106f"/><rect x="410" y="836.05" width="9.5" height="1.33" fill="#77106f"/><rect x="410" y="837.50" width="10.5" height="1.53" fill="#77106f"/><rect x="410" y="839.15" width="10.5" height="1.58" fill="#77106f"/><rect x="410" y="840.85" width="21.5" height="1.38" fill="#77106f"/><rect x="410" y="842.35" width="14.0" height="1.13" fill="#77106f"/><rect x="410" y="843.60" width="16.5" height="1.28" fill="#77106f"/><rect x="410" y="845.00" width="13.5" height="1.78" fill="#77106f"/><rect x="410" y="846.90" width="22.5" height="1.58" fill="#77106f"/><rect x="410" y="848.60" width="16.0" height="1.08" fill="#77106f"/><rect x="410" y="849.80" width="28.5" height="1.13" fill="#77106f"/><rect x="410" y="851.05" width="12.0" height="1.18" fill="#77106f"/><rect x="410" y="852.35" width="20.5" height="1.33" fill="#77106f"/><rect x="410" y="853.80" width="13.0" height="1.28" fill="#77106f"/><rect x="410" y="855.20" width="22.5" height="1.33" fill="#77106f"/><rect x="410" y="856.65" width="23.5" height="1.58" fill="#77106f"/><rect x="410" y="858.35" width="20.0" height="1.53" fill="#77106f"/><rect x="410" y="860.00" width="31.0" height="1.53" fill="#77106f"/><rect x="410" y="861.65" width="37.5" height="1.58" fill="#77106f"/><rect x="410" y="863.35" width="28.5" height="1.53" fill="#77106f"/><rect x="410" y="865.00" width="29.5" height="1.33" fill="#77106f"/><rect x="410" y="866.45" width="26.0" height="1.08" fill="#77106f"/><rect x="410" y="867.65" width="40.5" height="1.13" fill="#77106f"/><rect x="410" y="868.90" width="33.0" height="1.18" fill="#77106f"/><rect x="410" y="870.20" width="39.5" height="1.53" fill="#77106f"/><rect x="410" y="871.85" width="30.5" height="1.78" fill="#77106f"/><rect x="410" y="873.75" width="26.0" height="1.53" fill="#77106f"/><rect x="410" y="875.40" width="29.0" height="1.73" fill="#77106f"/><rect x="410" y="877.25" width="37.0" height="1.48" fill="#77106f"/><rect x="410" y="878.85" width="33.0" height="1.23" fill="#77106f"/><path d="M410 880.20H439.0V882.50H441.0V884.05H450.5V885.50H443.5V886.85H439.0V888.10H448.5V889.35H442.0V890.60H440.5V891.85H447.5V893.10H441.0V894.35H449.5V895.60H431.0V896.85H469.0V898.10H457.5V899.35H450.0V900.60H424.0V901.85H450.5V903.35H443.0V904.80H437.0V906.05H443.0V907.20H430.5V908.35H444.5V909.70H440.5V911.05H450.5V912.35H443.0V913.60H454.5V914.80H431.0V916.05H456.0V917.30H429.5V918.55H442.0V919.80H436.0V921.05H445.5V922.35H450.5V923.60H439.5V924.80H448.5V926.05H442.0V927.35H453.5V928.60H449.5V929.80H444.0V931.05H448.5V932.45H454.5V933.70H446.0V934.90H458.5V936.35H451.5V937.70H443.0V938.95H454.0V940.00H419.0V941.05H445.0V942.50H453.0V943.95H454.0V945.40H450.0V947.05H444.0V948.75H459.0V950.20H457.5V951.65H453.5V953.25H450.0V954.90H426.0V956.45H443.0V957.90H455.0V959.55H453.0V961.20H473.0V962.65H459.0V963.95H465.5V965.20H462.5V966.80H410Z" fill="#262e52" fill-opacity=".62"/><rect x="410" y="880.20" width="29.0" height="2.18" fill="#262e52"/><rect x="410" y="882.50" width="31.0" height="1.43" fill="#262e52"/><rect x="410" y="884.05" width="40.5" height="1.33" fill="#262e52"/><rect x="410" y="885.50" width="33.5" height="1.23" fill="#262e52"/><rect x="410" y="886.85" width="29.0" height="1.13" fill="#262e52"/><rect x="410" y="888.10" width="38.5" height="1.13" fill="#262e52"/><rect x="410" y="889.35" width="32.0" height="1.13" fill="#262e52"/><rect x="410" y="890.60" width="30.5" height="1.13" fill="#262e52"/><rect x="410" y="891.85" width="37.5" height="1.13" fill="#262e52"/><rect x="410" y="893.10" width="31.0" height="1.13" fill="#262e52"/><rect x="410" y="894.35" width="39.5" height="1.13" fill="#262e52"/><rect x="410" y="895.60" width="21.0" height="1.13" fill="#262e52"/><rect x="410" y="896.85" width="59.0" height="1.13" fill="#262e52"/><rect x="410" y="898.10" width="47.5" height="1.13" fill="#262e52"/><rect x="410" y="899.35" width="40.0" height="1.13" fill="#262e52"/><rect x="410" y="900.60" width="14.0" height="1.13" fill="#262e52"/><rect x="410" y="901.85" width="40.5" height="1.38" fill="#262e52"/><rect x="410" y="903.35" width="33.0" height="1.33" fill="#262e52"/><rect x="410" y="904.80" width="27.0" height="1.13" fill="#262e52"/><rect x="410" y="906.05" width="33.0" height="1.03" fill="#262e52"/><rect x="410" y="907.20" width="20.5" height="1.03" fill="#262e52"/><rect x="410" y="908.35" width="34.5" height="1.23" fill="#262e52"/><rect x="410" y="909.70" width="30.5" height="1.23" fill="#262e52"/><rect x="410" y="911.05" width="40.5" height="1.18" fill="#262e52"/><rect x="410" y="912.35" width="33.0" height="1.13" fill="#262e52"/><rect x="410" y="913.60" width="44.5" height="1.08" fill="#262e52"/><rect x="410" y="914.80" width="21.0" height="1.13" fill="#262e52"/><rect x="410" y="916.05" width="46.0" height="1.13" fill="#262e52"/><rect x="410" y="917.30" width="19.5" height="1.13" fill="#262e52"/><rect x="410" y="918.55" width="32.0" height="1.13" fill="#262e52"/><rect x="410" y="919.80" width="26.0" height="1.13" fill="#262e52"/><rect x="410" y="921.05" width="35.5" height="1.18" fill="#262e52"/><rect x="410" y="922.35" width="40.5" height="1.13" fill="#262e52"/><rect x="410" y="923.60" width="29.5" height="1.08" fill="#262e52"/><rect x="410" y="924.80" width="38.5" height="1.13" fill="#262e52"/><rect x="410" y="926.05" width="32.0" height="1.18" fill="#262e52"/><rect x="410" y="927.35" width="43.5" height="1.13" fill="#262e52"/><rect x="410" y="928.60" width="39.5" height="1.08" fill="#262e52"/><rect x="410" y="929.80" width="34.0" height="1.13" fill="#262e52"/><rect x="410" y="931.05" width="38.5" height="1.28" fill="#262e52"/><rect x="410" y="932.45" width="44.5" height="1.13" fill="#262e52"/><rect x="410" y="933.70" width="36.0" height="1.08" fill="#262e52"/><rect x="410" y="934.90" width="48.5" height="1.33" fill="#262e52"/><rect x="410" y="936.35" width="41.5" height="1.23" fill="#262e52"/><rect x="410" y="937.70" width="33.0" height="1.13" fill="#262e52"/><rect x="410" y="938.95" width="44.0" height="0.93" fill="#262e52"/><rect x="410" y="940.00" width="9.0" height="0.93" fill="#262e52"/><rect x="410" y="941.05" width="35.0" height="1.33" fill="#262e52"/><rect x="410" y="942.50" width="43.0" height="1.33" fill="#262e52"/><rect x="410" y="943.95" width="44.0" height="1.33" fill="#262e52"/><rect x="410" y="945.40" width="40.0" height="1.53" fill="#262e52"/><rect x="410" y="947.05" width="34.0" height="1.58" fill="#262e52"/><rect x="410" y="948.75" width="49.0" height="1.33" fill="#262e52"/><rect x="410" y="950.20" width="47.5" height="1.33" fill="#262e52"/><rect x="410" y="951.65" width="43.5" height="1.48" fill="#262e52"/><rect x="410" y="953.25" width="40.0" height="1.53" fill="#262e52"/><rect x="410" y="954.90" width="16.0" height="1.43" fill="#262e52"/><rect x="410" y="956.45" width="33.0" height="1.33" fill="#262e52"/><rect x="410" y="957.90" width="45.0" height="1.53" fill="#262e52"/><rect x="410" y="959.55" width="43.0" height="1.53" fill="#262e52"/><rect x="410" y="961.20" width="63.0" height="1.33" fill="#262e52"/><rect x="410" y="962.65" width="49.0" height="1.18" fill="#262e52"/><rect x="410" y="963.95" width="55.5" height="1.13" fill="#262e52"/><rect x="410" y="965.20" width="52.5" height="1.48" fill="#262e52"/><path d="M410 966.80H449.0V968.10H458.5V969.35H440.0V970.60H455.5V971.85H425.0V973.10H468.5V974.35H457.0V975.60H480.0V976.85H466.5V978.10H452.5V979.35H462.0V980.60H459.0V981.85H462.0V983.10H445.0V984.35H459.0V985.60H456.0V986.85H462.0V988.10H454.0V989.35H466.5V990.60H457.5V991.85H462.5V993.25H433.0V994.50H461.0V995.60H462.5V996.85H456.0V998.25H464.0V999.50H460.5V1000.75H473.5V1002.10H461.0V1003.35H478.5V1004.70H459.0V1006.05H485.5V1007.45H470.0V1008.70H483.0V1009.80H480.5V1011.05H482.0V1012.50H488.0V1013.95H487.0V1015.20H467.0V1016.30H477.5V1017.55H466.0V1018.95H453.0V1020.20H459.0V1021.45H462.5V1022.90H462.0V1024.35H460.0V1025.85H450.0V1027.30H463.5V1028.55H457.0V1030.00H438.0V1031.45H443.5V1032.70H465.0V1033.95H494.0V1035.20H523.0V1036.40H543.0V1037.65H451.0V1039.05H459.5V1040.40H447.0V1041.65H461.5V1042.90H437.0V1044.15H453.0V1045.40H462.0V1046.65H446.5V1048.00H455.0V1049.35H458.5V1050.75H460.0V1052.25H465.5V1053.60H468.0V1054.80H464.0V1055.90H468.0V1057.90H410Z" fill="#12671f" fill-opacity=".62"/><rect x="410" y="966.80" width="39.0" height="1.18" fill="#12671f"/><rect x="410" y="968.10" width="48.5" height="1.13" fill="#12671f"/><rect x="410" y="969.35" width="30.0" height="1.13" fill="#12671f"/><rect x="410" y="970.60" width="45.5" height="1.13" fill="#12671f"/><rect x="410" y="971.85" width="15.0" height="1.13" fill="#12671f"/><rect x="410" y="973.10" width="58.5" height="1.13" fill="#12671f"/><rect x="410" y="974.35" width="47.0" height="1.13" fill="#12671f"/><rect x="410" y="975.60" width="70.0" height="1.13" fill="#12671f"/><rect x="410" y="976.85" width="56.5" height="1.13" fill="#12671f"/><rect x="410" y="978.10" width="42.5" height="1.13" fill="#12671f"/><rect x="410" y="979.35" width="52.0" height="1.13" fill="#12671f"/><rect x="410" y="980.60" width="49.0" height="1.13" fill="#12671f"/><rect x="410" y="981.85" width="52.0" height="1.13" fill="#12671f"/><rect x="410" y="983.10" width="35.0" height="1.13" fill="#12671f"/><rect x="410" y="984.35" width="49.0" height="1.13" fill="#12671f"/><rect x="410" y="985.60" width="46.0" height="1.13" fill="#12671f"/><rect x="410" y="986.85" width="52.0" height="1.13" fill="#12671f"/><rect x="410" y="988.10" width="44.0" height="1.13" fill="#12671f"/><rect x="410" y="989.35" width="56.5" height="1.13" fill="#12671f"/><rect x="410" y="990.60" width="47.5" height="1.13" fill="#12671f"/><rect x="410" y="991.85" width="52.5" height="1.28" fill="#12671f"/><rect x="410" y="993.25" width="23.0" height="1.13" fill="#12671f"/><rect x="410" y="994.50" width="51.0" height="0.98" fill="#12671f"/><rect x="410" y="995.60" width="52.5" height="1.13" fill="#12671f"/><rect x="410" y="996.85" width="46.0" height="1.28" fill="#12671f"/><rect x="410" y="998.25" width="54.0" height="1.13" fill="#12671f"/><rect x="410" y="999.50" width="50.5" height="1.13" fill="#12671f"/><rect x="410" y="1000.75" width="63.5" height="1.23" fill="#12671f"/><rect x="410" y="1002.10" width="51.0" height="1.13" fill="#12671f"/><rect x="410" y="1003.35" width="68.5" height="1.23" fill="#12671f"/><rect x="410" y="1004.70" width="49.0" height="1.23" fill="#12671f"/><rect x="410" y="1006.05" width="75.5" height="1.28" fill="#12671f"/><rect x="410" y="1007.45" width="60.0" height="1.13" fill="#12671f"/><rect x="410" y="1008.70" width="73.0" height="0.98" fill="#12671f"/><rect x="410" y="1009.80" width="70.5" height="1.13" fill="#12671f"/><rect x="410" y="1011.05" width="72.0" height="1.33" fill="#12671f"/><rect x="410" y="1012.50" width="78.0" height="1.33" fill="#12671f"/><rect x="410" y="1013.95" width="77.0" height="1.13" fill="#12671f"/><rect x="410" y="1015.20" width="57.0" height="0.98" fill="#12671f"/><rect x="410" y="1016.30" width="67.5" height="1.13" fill="#12671f"/><rect x="410" y="1017.55" width="56.0" height="1.28" fill="#12671f"/><rect x="410" y="1018.95" width="43.0" height="1.13" fill="#12671f"/><rect x="410" y="1020.20" width="49.0" height="1.13" fill="#12671f"/><rect x="410" y="1021.45" width="52.5" height="1.33" fill="#12671f"/><rect x="410" y="1022.90" width="52.0" height="1.33" fill="#12671f"/><rect x="410" y="1024.35" width="50.0" height="1.38" fill="#12671f"/><rect x="410" y="1025.85" width="40.0" height="1.33" fill="#12671f"/><rect x="410" y="1027.30" width="53.5" height="1.13" fill="#12671f"/><rect x="410" y="1028.55" width="47.0" height="1.33" fill="#12671f"/><rect x="410" y="1030.00" width="28.0" height="1.33" fill="#12671f"/><rect x="410" y="1031.45" width="33.5" height="1.13" fill="#12671f"/><rect x="410" y="1032.70" width="55.0" height="1.13" fill="#12671f"/><rect x="410" y="1033.95" width="84.0" height="1.13" fill="#12671f"/><rect x="410" y="1035.20" width="113.0" height="1.08" fill="#12671f"/><rect x="410" y="1036.40" width="133.0" height="1.13" fill="#12671f"/><rect x="410" y="1037.65" width="41.0" height="1.28" fill="#12671f"/><rect x="410" y="1039.05" width="49.5" height="1.23" fill="#12671f"/><rect x="410" y="1040.40" width="37.0" height="1.13" fill="#12671f"/><rect x="410" y="1041.65" width="51.5" height="1.13" fill="#12671f"/><rect x="410" y="1042.90" width="27.0" height="1.13" fill="#12671f"/><rect x="410" y="1044.15" width="43.0" height="1.13" fill="#12671f"/><rect x="410" y="1045.40" width="52.0" height="1.13" fill="#12671f"/><rect x="410" y="1046.65" width="36.5" height="1.23" fill="#12671f"/><rect x="410" y="1048.00" width="45.0" height="1.23" fill="#12671f"/><rect x="410" y="1049.35" width="48.5" height="1.28" fill="#12671f"/><rect x="410" y="1050.75" width="50.0" height="1.38" fill="#12671f"/><rect x="410" y="1052.25" width="55.5" height="1.23" fill="#12671f"/><rect x="410" y="1053.60" width="58.0" height="1.08" fill="#12671f"/><rect x="410" y="1054.80" width="54.0" height="0.98" fill="#12671f"/><rect x="410" y="1055.90" width="58.0" height="1.88" fill="#12671f"/><path d="M410 1057.90H459.0V1059.35H434.0V1060.50H468.5V1061.75H461.5V1063.10H474.0V1064.35H475.0V1065.60H472.0V1066.85H465.0V1068.10H440.0V1069.35H459.0V1070.75H436.5V1072.10H466.0V1073.35H464.0V1074.50H471.0V1075.75H479.5V1077.00H455.0V1078.25H461.0V1079.75H450.0V1082.00H410Z" fill="#df0c29" fill-opacity=".62"/><rect x="410" y="1057.90" width="49.0" height="1.33" fill="#df0c29"/><rect x="410" y="1059.35" width="24.0" height="1.03" fill="#df0c29"/><rect x="410" y="1060.50" width="58.5" height="1.13" fill="#df0c29"/><rect x="410" y="1061.75" width="51.5" height="1.23" fill="#df0c29"/><rect x="410" y="1063.10" width="64.0" height="1.13" fill="#df0c29"/><rect x="410" y="1064.35" width="65.0" height="1.13" fill="#df0c29"/><rect x="410" y="1065.60" width="62.0" height="1.13" fill="#df0c29"/><rect x="410" y="1066.85" width="55.0" height="1.13" fill="#df0c29"/><rect x="410" y="1068.10" width="30.0" height="1.13" fill="#df0c29"/><rect x="410" y="1069.35" width="49.0" height="1.28" fill="#df0c29"/><rect x="410" y="1070.75" width="26.5" height="1.23" fill="#df0c29"/><rect x="410" y="1072.10" width="56.0" height="1.13" fill="#df0c29"/><rect x="410" y="1073.35" width="54.0" height="1.03" fill="#df0c29"/><rect x="410" y="1074.50" width="61.0" height="1.13" fill="#df0c29"/><rect x="410" y="1075.75" width="69.5" height="1.13" fill="#df0c29"/><rect x="410" y="1077.00" width="45.0" height="1.13" fill="#df0c29"/><rect x="410" y="1078.25" width="51.0" height="1.38" fill="#df0c29"/><rect x="410" y="1079.75" width="40.0" height="2.13" fill="#df0c29"/><rect x="410" y="624.800" width="7" height="1.300" fill="#4b5372"/><rect x="408.800" y="619" width="1.400" height="470" fill="#232b48"/></svg><span class="t" style="left:399.40px;top:613.00px;font-size:12px;font-family:'DejaVu Sans', 'Liberation Sans', sans-serif;color:#252f49;">0</span><span class="t" style="left:376.50px;top:677.00px;font-size:12px;font-family:'DejaVu Sans', 'Liberation Sans', sans-serif;color:#252f49;">1000</span><span class="t" style="left:376.50px;top:740.00px;font-size:12px;font-family:'DejaVu Sans', 'Liberation Sans', sans-serif;color:#252f49;">2000</span><span class="t" style="left:376.50px;top:803.00px;font-size:12px;font-family:'DejaVu Sans', 'Liberation Sans', sans-serif;color:#252f49;">3000</span><span class="t" style="left:376.50px;top:867.00px;font-size:12px;font-family:'DejaVu Sans', 'Liberation Sans', sans-serif;color:#252f49;">4000</span><span class="t" style="left:376.50px;top:930.00px;font-size:12px;font-family:'DejaVu Sans', 'Liberation Sans', sans-serif;color:#252f49;">5000</span><span class="t" style="left:376.50px;top:993.00px;font-size:12px;font-family:'DejaVu Sans', 'Liberation Sans', sans-serif;color:#252f49;">6000</span><span class="t" style="left:376.50px;top:1057.00px;font-size:12px;font-family:'DejaVu Sans', 'Liberation Sans', sans-serif;color:#252f49;">7000</span><span class="t" style="left:358.70px;top:901.00px;font-size:14px;font-family:'DejaVu Sans', 'Liberation Sans', sans-serif;color:#252f49;transform-origin:0 0;transform:rotate(-90deg);">MD (ft)</span></div>
<div class="layer" id="L-sidebar"><div class="a" style="left:0px;top:1060px;width:20px;height:20px;background:#000;"></div><div class="a" style="left:0px;top:0px;width:256px;height:1080px;background:linear-gradient(180deg,#172343 0%,#111c3e 18%,#071335 42%,#05112f 75%,#040f2e 100%);border-bottom-left-radius:14px;border-left:1px solid #39435f;"></div><div class="a" style="left:0px;top:62px;width:256px;height:1px;background:#454e69;"></div><div class="a" style="left:0px;top:1016px;width:256px;height:1px;background:#3d4663;"></div><svg class="a" style="left:20px;top:10px;overflow:visible" width="40" height="42" viewBox="20 10 40 42">
<defs><radialGradient id="lg"><stop offset="0" stop-color="#9fb0d8" stop-opacity=".30"/><stop offset="1" stop-color="#9fb0d8" stop-opacity="0"/></radialGradient>
<linearGradient id="lt" x1="0" y1="0" x2="0" y2="1"><stop offset="0" stop-color="#163b6f"/><stop offset="1" stop-color="#171c4b"/></linearGradient></defs>
<ellipse cx="40" cy="31" rx="22" ry="22" fill="url(#lg)"/>
<polygon points="25,36.6 40,27 55,36.6 40,47" fill="#c9c9c9"/>
<polygon points="25,30.8 40,21 55,30.8 40,41" fill="#a9a9ae"/>
<polygon points="25.5,25 40,15.2 54.5,25 40,34.8" fill="url(#lt)"/>
<path d="M32.6 24.2 40.4 19.6 47.4 24.2 43.4 27.4 38.2 23.8 M36.3 22.1 41.2 25.4" fill="none" stroke="#fff" stroke-width="1.25" stroke-linejoin="miter"/>
</svg><span class="t" style="left:67.75px;top:15.00px;font-size:14px;letter-spacing:0.681px;color:#eef0f5;-webkit-text-stroke:0.5px currentColor;">PetroBench</span><span class="t" style="left:68.00px;top:33.00px;font-size:12px;letter-spacing:0.545px;color:#b9bdc9;">Platform</span><svg class="a" style="left:24px;top:82px" width="28" height="28" viewBox="0 0 28 28">
<rect width="28" height="28" rx="3.5" fill="#dc3c1c"/>
<path d="M0 3.500A3.500 3.500 0 0 1 3.500 0H12.600L0 11.600z" fill="#dedede"/>
<polygon points="20,6.4 7.4,17 7.4,28 10.2,28 10.2,21.2 20,21.2" fill="#dedede"/>
</svg><div class="clip" style="left:58px;top:78px;width:148.6px;height:22px"><span class="t" style="left:1.45px;top:3.00px;font-size:14px;letter-spacing:0.569px;color:#eef0f5;-webkit-text-stroke:0.5px currentColor;">International Operatio</span><span class="t" style="left:150.75px;top:3.00px;font-size:14px;letter-spacing:-1.286px;color:#eef0f5;-webkit-text-stroke:0.5px currentColor;">ns</span></div><svg class="a" style="left:60px;top:99px" width="12" height="12" viewBox="0 0 12 12" fill="#b9bdc9">
<path d="M3 1.6h6l.7 1.8H12V10.4H0V3.4h2.3zM5.4 4.2v4h1.2v-4z" fill-rule="evenodd"/></svg><span class="t" style="left:76.00px;top:99.00px;font-size:12px;letter-spacing:0.452px;color:#b9bdc9;">Division</span><svg class="a" style="left:216px;top:88.3px;" width="16" height="16" viewBox="0 0 24 24" fill="none" stroke="#e6e8ee" stroke-width="2" stroke-linecap="round" stroke-linejoin="round"><path d="m7 15 5 5 5-5"/><path d="m7 9 5-5 5 5"/></svg><span class="t" style="left:24.00px;top:138.00px;font-size:12px;letter-spacing:0.403px;color:#b9bdc9;">Platform</span><span class="t" style="left:24.00px;top:282.00px;font-size:12px;letter-spacing:0.716px;color:#b9bdc9;">Apps</span><svg class="a" style="left:24px;top:168px" width="16" height="16" viewBox="0 0 16 16" fill="none" stroke="#e6e8ee" stroke-width=".850" stroke-linecap="round" stroke-linejoin="round">
<path d="M.900 .900h14.200v1.100H.900zM1.600 2v9.500M14.400 2v9.500M1.600 13.500v1.700M14.400 13.500v1.700M.500 15.500h15"/>
<circle cx="1.600" cy="12.500" r="1"/><circle cx="14.400" cy="12.500" r="1"/>
<path d="M7.900 2v1.400M6.100 14.700 7.300 3.500h1.200l1.200 11.200M6.900 6.300h2M6.700 9.200h2.500"/>
<circle cx="7.900" cy="12.800" r="1.150"/>
</svg><span class="t" style="left:48.00px;top:169.00px;font-size:14px;letter-spacing:0.258px;color:#e6e8ee;">Wells</span><svg class="a" style="left:24px;top:204px;" width="16" height="16" viewBox="0 0 24 24" fill="none" stroke="#e6e8ee" stroke-width="2" stroke-linecap="round" stroke-linejoin="round"><rect width="16" height="20" x="4" y="2" rx="2" ry="2"/><path d="M9 22v-4h6v4"/><path d="M8 6h.01"/><path d="M16 6h.01"/><path d="M12 6h.01"/><path d="M12 10h.01"/><path d="M12 14h.01"/><path d="M16 10h.01"/><path d="M16 14h.01"/><path d="M8 10h.01"/><path d="M8 14h.01"/></svg><span class="t" style="left:48.00px;top:205.00px;font-size:14px;letter-spacing:0.514px;color:#e6e8ee;">Company</span><svg class="a" style="left:24px;top:240px;" width="16" height="16" viewBox="0 0 24 24" fill="none" stroke="#e6e8ee" stroke-width="2" stroke-linecap="round" stroke-linejoin="round"><path d="M16 21v-2a4 4 0 0 0-4-4H6a4 4 0 0 0-4 4v2"/><circle cx="9" cy="7" r="4"/><path d="M22 21v-2a4 4 0 0 0-3-3.87"/><path d="M16 3.13a4 4 0 0 1 0 7.75"/></svg><span class="t" style="left:48.00px;top:241.00px;font-size:14px;letter-spacing:0.465px;color:#e6e8ee;">Contacts</span><div class="a" style="left:16px;top:304px;width:224px;height:32px;background:#3f4762;border-radius:6px;"></div><svg class="a" style="left:24px;top:312px;" width="16" height="16" viewBox="0 0 24 24" fill="none" stroke="#e6e8ee" stroke-width="2" stroke-linecap="round" stroke-linejoin="round"><path d="M14.5 22H18a2 2 0 0 0 2-2V7l-5-5H6a2 2 0 0 0-2 2v4"/><path d="M14 2v4a2 2 0 0 0 2 2h4"/><path d="M3 13.1a2 2 0 0 0-1 1.76v3.24a2 2 0 0 0 .97 1.78L6 21.7a2 2 0 0 0 2.03.01L11 19.9a2 2 0 0 0 1-1.76V14.9a2 2 0 0 0-.97-1.78L8 11.3a2 2 0 0 0-2.03-.01Z"/><path d="M7 17v5"/><path d="M11.7 14.2 7 17l-4.7-2.8"/></svg><span class="t" style="left:47.00px;top:313.00px;font-size:14px;letter-spacing:0.474px;color:#e6e8ee;">RodSim</span><svg class="a" style="left:24px;top:348px;" width="16" height="16" viewBox="0 0 24 24" fill="none" stroke="#e6e8ee" stroke-width="2" stroke-linecap="round" stroke-linejoin="round"><rect width="16" height="20" x="4" y="2" rx="2"/><line x1="8" x2="16" y1="6" y2="6"/><line x1="16" x2="16" y1="14" y2="18"/><path d="M16 10h.01"/><path d="M12 10h.01"/><path d="M8 10h.01"/><path d="M12 14h.01"/><path d="M8 14h.01"/><path d="M12 18h.01"/><path d="M8 18h.01"/></svg><span class="t" style="left:48.00px;top:349.00px;font-size:14px;letter-spacing:0.397px;color:#e6e8ee;">Calculators</span><svg class="a" style="left:216px;top:348px;" width="16" height="16" viewBox="0 0 24 24" fill="none" stroke="#e6e8ee" stroke-width="2" stroke-linecap="round" stroke-linejoin="round"><path d="m9 18 6-6-6-6"/></svg><svg class="a" style="left:24px;top:876px;" width="16" height="16" viewBox="0 0 24 24" fill="none" stroke="#e6e8ee" stroke-width="2" stroke-linecap="round" stroke-linejoin="round"><path d="M20 13c0 5-3.5 7.5-7.66 8.95a1 1 0 0 1-.67-.01C7.5 20.5 4 18 4 13V6a1 1 0 0 1 1-1c2 0 4.5-1.2 6.24-2.72a1.17 1.17 0 0 1 1.52 0C14.51 3.81 17 5 19 5a1 1 0 0 1 1 1z"/></svg><span class="t" style="left:48.00px;top:877.00px;font-size:14px;letter-spacing:0.323px;color:#e6e8ee;">Admin Panel</span><div class="a" style="left:16px;top:904px;width:224px;height:32px;background:#3b435f;border-radius:6px;"></div><svg class="a" style="left:24px;top:912px;" width="16" height="16" viewBox="0 0 24 24" fill="none" stroke="#e6e8ee" stroke-width="2" stroke-linecap="round" stroke-linejoin="round"><path d="m12.83 2.18a2 2 0 0 0-1.66 0L2.6 6.08a1 1 0 0 0 0 1.83l8.58 3.91a2 2 0 0 0 1.66 0l8.58-3.9a1 1 0 0 0 0-1.83Z"/><path d="m22 17.65-9.17 4.16a2 2 0 0 1-1.66 0L2 17.65"/><path d="m22 12.65-9.17 4.16a2 2 0 0 1-1.66 0L2 12.65"/></svg><span class="t" style="left:47.00px;top:913.00px;font-size:14px;letter-spacing:0.720px;color:#e6e8ee;">Platform</span><svg class="a" style="left:24px;top:948px;" width="16" height="16" viewBox="0 0 24 24" fill="none" stroke="#e6e8ee" stroke-width="2" stroke-linecap="round" stroke-linejoin="round"><path d="M20 7h-3a2 2 0 0 1-2-2V2"/><path d="M9 18a2 2 0 0 1-2-2V4a2 2 0 0 1 2-2h7l4 4v10a2 2 0 0 1-2 2Z"/><path d="M3 7.6v12.8A1.6 1.6 0 0 0 4.6 22h9.8"/></svg><span class="t" style="left:47.00px;top:949.00px;font-size:14px;letter-spacing:0.635px;color:#e6e8ee;">Documentation</span><svg class="a" style="left:24px;top:984px;" width="16" height="16" viewBox="0 0 24 24" fill="none" stroke="#e6e8ee" stroke-width="2" stroke-linecap="round" stroke-linejoin="round"><circle cx="12" cy="12" r="10"/><path d="M9.09 9a3 3 0 0 1 5.83 1c0 2-3 3-3 3"/><path d="M12 17h.01"/></svg><span class="t" style="left:48.00px;top:985.00px;font-size:14px;letter-spacing:0.559px;color:#e6e8ee;">Support</span><svg class="a" style="left:16px;top:1033px" width="32" height="32" viewBox="0 0 32 32">
<defs><clipPath id="av"><circle cx="16" cy="16" r="16"/></clipPath>
<radialGradient id="avb" cx=".4" cy=".35" r=".8"><stop offset="0" stop-color="#aba18c"/><stop offset="1" stop-color="#8f8672"/></radialGradient></defs>
<g clip-path="url(#av)">
<rect width="32" height="32" fill="url(#avb)"/>
<path d="M5.500 33c.2-8.500 2.200-13.600 7.300-15.800l3.900 3.400 3.300-4c5.600 2 8.200 7.600 8.600 16.400z" fill="#1b2527"/>
<path d="M13.700 17.400l3 3.400 2.800-3.800v-3.400h-5.800z" fill="#b48a6d"/>
<path d="M15.300 20.100l1.500 3 1.600-3.400-1.600 1.200z" fill="#8f959b"/>
<ellipse cx="16.700" cy="9.800" rx="4.500" ry="6" fill="#c4977a"/>
<path d="M12.200 8.800c-.2-4.300 1.900-6.300 4.600-6.300 2.700 0 4.600 1.900 4.400 6.100-.7-2.300-1.700-3.400-4.400-3.400s-3.900 1.200-4.600 3.600z" fill="#8a7867"/>
<path d="M14.300 12.900c1.400 1.100 3.400 1.100 4.700 0-.5 1.500-1.400 2.100-2.300 2.100-1 0-1.900-.6-2.400-2.100z" fill="#a97e66"/>
</g></svg><span class="t" style="left:56.49px;top:1034.00px;font-size:14px;letter-spacing:0.605px;color:#eef0f5;-webkit-text-stroke:0.38px currentColor;">John Henderson</span><span class="t" style="left:56.00px;top:1052.00px;font-size:12px;letter-spacing:0.404px;color:#e6e8ee;">HQ Admin</span><svg class="a" style="left:224px;top:1041px;" width="16" height="16" viewBox="0 0 24 24" fill="none" stroke="#e6e8ee" stroke-width="2" stroke-linecap="round" stroke-linejoin="round"><path d="m7 15 5 5 5-5"/><path d="m7 9 5-5 5 5"/></svg></div>
<div class="layer" id="L-hl"><div class="a" style="left:776px;top:233px;width:126px;height:37px;background:#f3f3f1;border-radius:7px;box-shadow:0 0 0 4px #7f9de4,0 0 11px 7px rgba(105,130,225,.24);"></div><div class="a" style="left:780px;top:237px;width:118.3px;height:29.3px;background:#ffffff;border-radius:4.5px;box-shadow:0 1px 2px rgba(0,0,0,.10);"></div><span class="t" style="left:795.74px;top:244.00px;font-size:14px;letter-spacing:0.223px;color:#0a0a0a;-webkit-text-stroke:0.28px currentColor;">Rod Data</span><svg class="a" style="left:865px;top:243px" width="16" height="16" viewBox="0 0 16 16"><circle cx="8" cy="8" r="8" fill="#0d9c43"/><path d="M4.300 8.300 6.900 10.900 11.900 5.600" fill="none" stroke="#fff" stroke-width="1.500" stroke-linecap="round" stroke-linejoin="round"/></svg><div class="a" style="left:1863px;top:1009px;width:48px;height:48px;background:#d9d9d9;border:1px solid #c8c8c8;border-radius:50%;box-shadow:0 4px 10px rgba(0,0,0,.12),0 1px 3px rgba(0,0,0,.08);"></div><svg class="a" style="left:1877px;top:1023px;" width="20" height="20" viewBox="0 0 24 24" fill="none" stroke="#111" stroke-width="2" stroke-linecap="round" stroke-linejoin="round"><circle cx="12" cy="12" r="10"/><path d="M9.09 9a3 3 0 0 1 5.83 1c0 2-3 3-3 3"/><path d="M12 17h.01"/></svg></div>
<div class="layer" id="L-popover"><div class="a" style="left:781px;top:291px;width:318.400px;height:176.400px;background:#fff;border-radius:2px;box-shadow:0 10px 15px -3px rgba(0,0,0,.14),0 4px 6px -4px rgba(0,0,0,.12)"></div><svg class="a" style="left:814px;top:284px" width="15" height="8" viewBox="0 0 15 8"><polygon points="1.300,7.500 7.300,1.200 13.300,7.500" fill="#fff"/></svg><span class="t" style="left:796.15px;top:310.00px;font-size:14px;letter-spacing:0.492px;color:#0b0b0b;-webkit-text-stroke:0.5px currentColor;">Rod String Design</span><svg class="a" style="left:1063px;top:311px;" width="16" height="16" viewBox="0 0 24 24" fill="none" stroke="#3c3c3c" stroke-width="1.5" stroke-linecap="round" stroke-linejoin="round"><path d="M18 6 6 18"/><path d="m6 6 12 12"/></svg><span class="t" style="left:796.60px;top:345.00px;font-size:12px;letter-spacing:0.056px;color:#6a6a6a;">Step 11 of 28</span><div class="a" style="left:881px;top:348px;width:202px;height:6px;background:#f0f0f0;border-radius:3px;"></div><div class="a" style="left:881px;top:348px;width:79px;height:6px;background:#1c39bb;border-radius:3px;"></div><span class="t" style="left:796.60px;top:373.00px;font-size:12px;letter-spacing:0.407px;color:#6d6d6d;">Click this tab to design your rod string with</span><span class="t" style="left:796.60px;top:389.00px;font-size:12px;letter-spacing:0.351px;color:#6d6d6d;">appropriate sizes and grades.</span><svg class="a" style="left:806.7px;top:427px;" width="16" height="16" viewBox="0 0 24 24" fill="none" stroke="#6a6a6a" stroke-width="1.7" stroke-linecap="round" stroke-linejoin="round"><path d="m15 18-6-6 6-6"/></svg><span class="t" style="left:830.10px;top:428.00px;font-size:14px;letter-spacing:0.476px;color:#6a6a6a;-webkit-text-stroke:0.2px currentColor;">Previous</span><div class="a" style="left:1007px;top:419px;width:76px;height:32px;background:#1c39bb;border-radius:4px;"></div><span class="t" style="left:1016.84px;top:428.00px;font-size:14px;letter-spacing:0.608px;color:#ffffff;-webkit-text-stroke:0.28px currentColor;">Next</span><svg class="a" style="left:1056.4px;top:427px;" width="16" height="16" viewBox="0 0 24 24" fill="none" stroke="#ffffff" stroke-width="1.7" stroke-linecap="round" stroke-linejoin="round"><path d="m9 18 6-6-6-6"/></svg></div>
</body></html>
